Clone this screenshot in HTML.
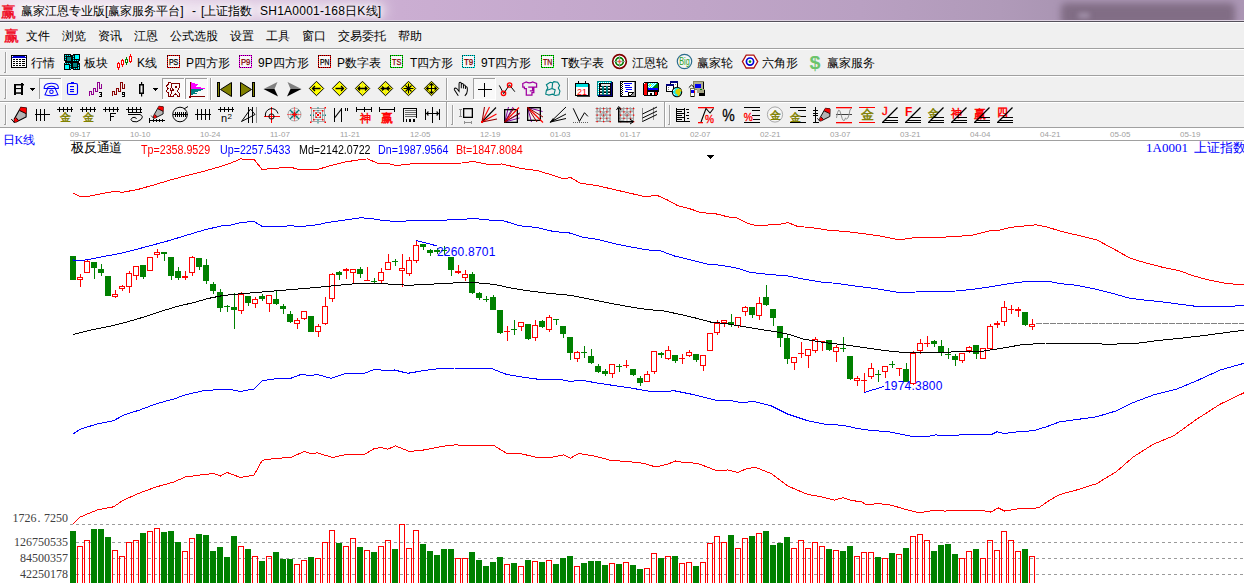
<!DOCTYPE html>
<html lang="zh"><head><meta charset="utf-8"><title>赢家江恩专业版</title>
<style>
html,body{margin:0;padding:0}
body{width:1244px;height:583px;overflow:hidden;position:relative;background:#fff;
 font-family:"Liberation Sans",sans-serif;font-size:12px;color:#000}
.t{position:absolute;white-space:nowrap;line-height:14px;height:14px}
.abs{position:absolute}
#title{position:absolute;left:0;top:0;width:1244px;height:21px;overflow:hidden;
 background:linear-gradient(90deg,#efe3ef 0px,#e6d6e8 120px,#d8c0dc 260px,#cbaed2 400px,#c5a9cd 560px,#c0a5c8 700px,#b9a0c2 860px,#b09ab9 1000px,#ab96b4 1050px)}
#title .blob{position:absolute;left:1061px;top:3px;width:174px;height:23px;background:#816d85;filter:blur(3.5px);border-radius:5px}
#title .blob2{position:absolute;left:1078px;top:13px;width:12px;height:5px;background:#a594ad;filter:blur(2.5px);border-radius:3px}
#title .glow{position:absolute;left:14px;top:2px;width:372px;height:16px;background:#fff;opacity:.55;filter:blur(6px);border-radius:8px}
#title .hl{position:absolute;left:0;top:20px;width:1244px;height:1px;background:#ddd2e1}
#tline{position:absolute;left:0;top:21px;width:1244px;height:1px;background:#55505b}
#bars{position:absolute;left:0;top:22px;width:1244px;height:105px;background:#f0f0f0}
.sep{position:absolute;left:0;width:1244px;height:1px;background:#a0a0a0}
.sepw{position:absolute;left:0;width:1244px;height:1px;background:#fff}
.ttl{text-shadow:0 0 5px #fff,0 0 8px #fff}
.m{font-size:12px}
.ser{font-family:"Liberation Serif",serif}
.blue{color:#0000ff}.red{color:#ff0000}
.hd{font-size:12px;transform:scaleX(.89);transform-origin:0 0}
.dt{font-size:8px;color:#a0a0a0;line-height:10px;height:10px}
.vl{font-family:"Liberation Serif",serif;font-size:12px;color:#404040;text-align:right;width:60px}
.chart{position:absolute;left:0;top:0}
.ic{position:absolute;overflow:visible}
.grip{position:absolute;width:1px;background:#a0a0a0}
.vsep{position:absolute;width:1px;background:#a0a0a0}
.btn{position:absolute;background:#fafafa;box-shadow:inset 1px 1px 0 #a0a0a0,inset -1px -1px 0 #fff}
</style></head><body>

<div id="title"><div class="blob"></div><div class="blob2"></div><div class="glow"></div><div class="hl"></div>
<span class="t ttl" style="left:21px;top:4px;">赢家江恩专业版[赢家服务平台]</span>
<span class="t ttl" style="left:192px;top:4px;">-</span>
<span class="t ttl" style="left:201px;top:4px;">[上证指数</span>
<span class="t ttl" style="left:260px;top:4px;letter-spacing:.25px">SH1A0001-168日K线]</span>
</div><div id="tline"></div>
<div id="bars"></div>
<div class="sepw" style="top:22px"></div>
<div class="sep" style="top:48px"></div><div class="sepw" style="top:49px"></div>
<div class="sep" style="top:75px"></div><div class="sepw" style="top:76px"></div>
<div class="sep" style="top:101px"></div><div class="sepw" style="top:102px"></div>
<div class="sep" style="top:127px"></div>
<span class="t m" style="left:26px;top:29px;">文件</span>
<span class="t m" style="left:62px;top:29px;">浏览</span>
<span class="t m" style="left:98px;top:29px;">资讯</span>
<span class="t m" style="left:134px;top:29px;">江恩</span>
<span class="t m" style="left:170px;top:29px;">公式选股</span>
<span class="t m" style="left:230px;top:29px;">设置</span>
<span class="t m" style="left:266px;top:29px;">工具</span>
<span class="t m" style="left:302px;top:29px;">窗口</span>
<span class="t m" style="left:338px;top:29px;">交易委托</span>
<span class="t m" style="left:398px;top:29px;">帮助</span>
<span class="t m" style="left:31px;top:56px;">行情</span>
<span class="t m" style="left:84px;top:56px;">板块</span>
<span class="t m" style="left:137px;top:56px;">K线</span>
<span class="t m" style="left:186px;top:56px;">P四方形</span>
<span class="t m" style="left:258px;top:56px;">9P四方形</span>
<span class="t m" style="left:337px;top:56px;">P数字表</span>
<span class="t m" style="left:410px;top:56px;">T四方形</span>
<span class="t m" style="left:481px;top:56px;">9T四方形</span>
<span class="t m" style="left:561px;top:56px;">T数字表</span>
<span class="t m" style="left:632px;top:56px;">江恩轮</span>
<span class="t m" style="left:697px;top:56px;">赢家轮</span>
<span class="t m" style="left:762px;top:56px;">六角形</span>
<span class="t m" style="left:827px;top:56px;">赢家服务</span>
<svg class="ic" style="left:0;top:0" width="1244" height="128" viewBox="0 0 1244 128" font-family="Liberation Sans, sans-serif"><text x="0.5" y="16.5" font-size="15" fill="#f00018" font-family="Liberation Serif, serif" stroke="#f00018" stroke-width=".35">赢</text><text x="3.5" y="40.5" font-size="15" fill="#f00018" font-family="Liberation Serif, serif" stroke="#f00018" stroke-width=".35">赢</text><g shape-rendering="crispEdges"><rect x="5" y="52" width="1" height="21" fill="#a0a0a0" /><rect x="4" y="72" width="1" height="1" fill="#a0a0a0" /><rect x="6" y="52" width="1" height="21" fill="#fbfbfb" /></g><g shape-rendering="crispEdges"><rect x="11.5" y="55.5" width="15" height="12" fill="#fff" stroke="#000" stroke-width="1" /><rect x="12" y="56" width="14" height="2" fill="#0000d0" /><rect x="12" y="56" width="1" height="1" fill="#fff" /><rect x="25" y="56" width="1" height="1" fill="#fff" /><rect x="13" y="59" width="2" height="1" fill="#000" /><rect x="16" y="59" width="2" height="1" fill="#000" /><rect x="19" y="59" width="2" height="1" fill="#000" /><rect x="22" y="59" width="3" height="1" fill="#000" /><rect x="13" y="61" width="2" height="1" fill="#000" /><rect x="16" y="61" width="2" height="1" fill="#000" /><rect x="19" y="61" width="2" height="1" fill="#000" /><rect x="22" y="61" width="3" height="1" fill="#000" /><rect x="13" y="63" width="2" height="1" fill="#000" /><rect x="16" y="63" width="2" height="1" fill="#000" /><rect x="19" y="63" width="2" height="1" fill="#000" /><rect x="22" y="63" width="3" height="1" fill="#000" /><rect x="13" y="65" width="2" height="1" fill="#000" /><rect x="16" y="65" width="2" height="1" fill="#000" /><rect x="19" y="65" width="2" height="1" fill="#000" /><rect x="22" y="65" width="3" height="1" fill="#000" /></g><g shape-rendering="crispEdges"><rect x="64" y="54" width="7" height="1" fill="#000" /><rect x="73" y="54" width="7" height="1" fill="#000" /><rect x="64" y="55" width="1" height="1" fill="#000" /><rect x="65" y="55" width="1" height="1" fill="#00ffff" /><rect x="66" y="55" width="1" height="1" fill="#003838" /><rect x="67" y="55" width="1" height="1" fill="#00ffff" /><rect x="68" y="55" width="1" height="1" fill="#003838" /><rect x="69" y="55" width="1" height="1" fill="#00ffff" /><rect x="70" y="55" width="3" height="1" fill="#000" /><rect x="73" y="55" width="1" height="1" fill="#003838" /><rect x="74" y="55" width="1" height="1" fill="#000" /><rect x="75" y="55" width="4" height="1" fill="#00ffff" /><rect x="79" y="55" width="1" height="1" fill="#000" /><rect x="64" y="56" width="1" height="1" fill="#000" /><rect x="65" y="56" width="1" height="1" fill="#003838" /><rect x="66" y="56" width="7" height="1" fill="#000" /><rect x="73" y="56" width="1" height="1" fill="#00ffff" /><rect x="74" y="56" width="1" height="1" fill="#000" /><rect x="75" y="56" width="4" height="1" fill="#00ffff" /><rect x="79" y="56" width="1" height="1" fill="#000" /><rect x="64" y="57" width="1" height="1" fill="#000" /><rect x="65" y="57" width="1" height="1" fill="#00ffff" /><rect x="66" y="57" width="1" height="1" fill="#000" /><rect x="67" y="57" width="4" height="1" fill="#008080" /><rect x="71" y="57" width="2" height="1" fill="#000" /><rect x="73" y="57" width="1" height="1" fill="#003838" /><rect x="74" y="57" width="1" height="1" fill="#000" /><rect x="75" y="57" width="4" height="1" fill="#00ffff" /><rect x="79" y="57" width="1" height="1" fill="#000" /><rect x="64" y="58" width="1" height="1" fill="#000" /><rect x="65" y="58" width="1" height="1" fill="#003838" /><rect x="66" y="58" width="1" height="1" fill="#000" /><rect x="67" y="58" width="4" height="1" fill="#008080" /><rect x="71" y="58" width="2" height="1" fill="#000" /><rect x="73" y="58" width="1" height="1" fill="#00ffff" /><rect x="74" y="58" width="1" height="1" fill="#000" /><rect x="75" y="58" width="4" height="1" fill="#00ffff" /><rect x="79" y="58" width="1" height="1" fill="#000" /><rect x="64" y="59" width="1" height="1" fill="#000" /><rect x="65" y="59" width="1" height="1" fill="#00ffff" /><rect x="66" y="59" width="1" height="1" fill="#000" /><rect x="67" y="59" width="4" height="1" fill="#008080" /><rect x="71" y="59" width="2" height="1" fill="#000" /><rect x="73" y="59" width="1" height="1" fill="#003838" /><rect x="74" y="59" width="6" height="1" fill="#000" /><rect x="64" y="60" width="3" height="1" fill="#000" /><rect x="67" y="60" width="4" height="1" fill="#008080" /><rect x="71" y="60" width="2" height="1" fill="#000" /><rect x="73" y="60" width="1" height="1" fill="#00ffff" /><rect x="74" y="60" width="1" height="1" fill="#003838" /><rect x="75" y="60" width="1" height="1" fill="#00ffff" /><rect x="76" y="60" width="1" height="1" fill="#003838" /><rect x="77" y="60" width="1" height="1" fill="#00ffff" /><rect x="78" y="60" width="1" height="1" fill="#003838" /><rect x="79" y="60" width="1" height="1" fill="#000" /><rect x="65" y="61" width="14" height="1" fill="#000" /><rect x="65" y="62" width="14" height="1" fill="#000" /><rect x="64" y="63" width="1" height="1" fill="#000" /><rect x="65" y="63" width="1" height="1" fill="#00ffff" /><rect x="66" y="63" width="1" height="1" fill="#003838" /><rect x="67" y="63" width="1" height="1" fill="#00ffff" /><rect x="68" y="63" width="1" height="1" fill="#003838" /><rect x="69" y="63" width="1" height="1" fill="#00ffff" /><rect x="70" y="63" width="1" height="1" fill="#003838" /><rect x="71" y="63" width="2" height="1" fill="#000" /><rect x="73" y="63" width="4" height="1" fill="#008080" /><rect x="77" y="63" width="3" height="1" fill="#000" /><rect x="64" y="64" width="6" height="1" fill="#000" /><rect x="70" y="64" width="1" height="1" fill="#00ffff" /><rect x="71" y="64" width="2" height="1" fill="#000" /><rect x="73" y="64" width="4" height="1" fill="#008080" /><rect x="77" y="64" width="1" height="1" fill="#000" /><rect x="78" y="64" width="1" height="1" fill="#003838" /><rect x="79" y="64" width="1" height="1" fill="#000" /><rect x="64" y="65" width="1" height="1" fill="#000" /><rect x="65" y="65" width="4" height="1" fill="#00ffff" /><rect x="69" y="65" width="1" height="1" fill="#000" /><rect x="70" y="65" width="1" height="1" fill="#003838" /><rect x="71" y="65" width="2" height="1" fill="#000" /><rect x="73" y="65" width="4" height="1" fill="#008080" /><rect x="77" y="65" width="1" height="1" fill="#000" /><rect x="78" y="65" width="1" height="1" fill="#00ffff" /><rect x="79" y="65" width="1" height="1" fill="#000" /><rect x="64" y="66" width="1" height="1" fill="#000" /><rect x="65" y="66" width="4" height="1" fill="#00ffff" /><rect x="69" y="66" width="1" height="1" fill="#000" /><rect x="70" y="66" width="1" height="1" fill="#00ffff" /><rect x="71" y="66" width="2" height="1" fill="#000" /><rect x="73" y="66" width="4" height="1" fill="#008080" /><rect x="77" y="66" width="1" height="1" fill="#000" /><rect x="78" y="66" width="1" height="1" fill="#003838" /><rect x="79" y="66" width="1" height="1" fill="#000" /><rect x="64" y="67" width="1" height="1" fill="#000" /><rect x="65" y="67" width="4" height="1" fill="#00ffff" /><rect x="69" y="67" width="1" height="1" fill="#000" /><rect x="70" y="67" width="1" height="1" fill="#003838" /><rect x="71" y="67" width="7" height="1" fill="#000" /><rect x="78" y="67" width="1" height="1" fill="#00ffff" /><rect x="79" y="67" width="1" height="1" fill="#000" /><rect x="64" y="68" width="1" height="1" fill="#000" /><rect x="65" y="68" width="4" height="1" fill="#00ffff" /><rect x="69" y="68" width="1" height="1" fill="#000" /><rect x="70" y="68" width="1" height="1" fill="#00ffff" /><rect x="71" y="68" width="2" height="1" fill="#000" /><rect x="73" y="68" width="1" height="1" fill="#003838" /><rect x="74" y="68" width="1" height="1" fill="#00ffff" /><rect x="75" y="68" width="1" height="1" fill="#003838" /><rect x="76" y="68" width="1" height="1" fill="#00ffff" /><rect x="77" y="68" width="1" height="1" fill="#003838" /><rect x="78" y="68" width="1" height="1" fill="#00ffff" /><rect x="79" y="68" width="1" height="1" fill="#000" /><rect x="64" y="69" width="7" height="1" fill="#000" /><rect x="73" y="69" width="7" height="1" fill="#000" /></g><g shape-rendering="crispEdges"><rect x="118" y="62" width="1" height="1" fill="#f00" /><rect x="118" y="68" width="1" height="2" fill="#f00" /><rect x="117.5" y="63.5" width="2" height="4" fill="#fff" stroke="#f00" stroke-width="1" /><rect x="122" y="59" width="1" height="1" fill="#f00" /><rect x="122" y="65" width="1" height="2" fill="#f00" /><rect x="121.5" y="60.5" width="2" height="4" fill="#fff" stroke="#f00" stroke-width="1" /><rect x="126" y="57" width="1" height="2" fill="#008000" /><rect x="126" y="63" width="1" height="2" fill="#008000" /><rect x="125.5" y="59.5" width="2" height="3" fill="#fff" stroke="#008000" stroke-width="1" /><rect x="130" y="54" width="1" height="2" fill="#f00" /><rect x="130" y="62" width="1" height="1" fill="#f00" /><rect x="129.5" y="56.5" width="2" height="5" fill="#fff" stroke="#f00" stroke-width="1" /></g><g shape-rendering="crispEdges"><rect x="167.5" y="55.5" width="12" height="12" fill="#f8f8f8" stroke="#300000" stroke-width="1" /><rect x="167.5" y="55.5" width="12" height="12" fill="none" stroke="#ff0000" stroke-width="1" stroke-dasharray="1 1"/></g><text x="173.6" y="65" font-size="8.6" fill="#000" text-anchor="middle" textLength="9.4" lengthAdjust="spacingAndGlyphs" stroke="#000" stroke-width=".25">PS</text><g shape-rendering="crispEdges"><rect x="239.5" y="55.5" width="12" height="12" fill="#f8f8f8" stroke="#500050" stroke-width="1" /><rect x="239.5" y="55.5" width="12" height="12" fill="none" stroke="#ff00ff" stroke-width="1" stroke-dasharray="1 1"/></g><text x="245.6" y="65" font-size="8.6" fill="#800000" text-anchor="middle" textLength="9.4" lengthAdjust="spacingAndGlyphs" stroke="#800000" stroke-width=".25">P9</text><g shape-rendering="crispEdges"><rect x="318.5" y="55.5" width="12" height="12" fill="#f8f8f8" stroke="#300000" stroke-width="1" /><rect x="318.5" y="55.5" width="12" height="12" fill="none" stroke="#ff0000" stroke-width="1" stroke-dasharray="1 1"/></g><text x="324.6" y="65" font-size="8.6" fill="#000" text-anchor="middle" textLength="9.4" lengthAdjust="spacingAndGlyphs" stroke="#000" stroke-width=".25">PN</text><g shape-rendering="crispEdges"><rect x="390.5" y="55.5" width="12" height="12" fill="#f8f8f8" stroke="#004000" stroke-width="1" /><rect x="390.5" y="55.5" width="12" height="12" fill="none" stroke="#00ff00" stroke-width="1" stroke-dasharray="1 1"/></g><text x="396.6" y="65" font-size="8.6" fill="#800000" text-anchor="middle" textLength="9.4" lengthAdjust="spacingAndGlyphs" stroke="#800000" stroke-width=".25">TS</text><g shape-rendering="crispEdges"><rect x="462.5" y="55.5" width="12" height="12" fill="#f8f8f8" stroke="#004848" stroke-width="1" /><rect x="462.5" y="55.5" width="12" height="12" fill="none" stroke="#00e8e8" stroke-width="1" stroke-dasharray="1 1"/></g><text x="468.6" y="65" font-size="8.6" fill="#800000" text-anchor="middle" textLength="9.4" lengthAdjust="spacingAndGlyphs" stroke="#800000" stroke-width=".25">T9</text><g shape-rendering="crispEdges"><rect x="541.5" y="55.5" width="12" height="12" fill="#f8f8f8" stroke="#004000" stroke-width="1" /><rect x="541.5" y="55.5" width="12" height="12" fill="none" stroke="#00ff00" stroke-width="1" stroke-dasharray="1 1"/></g><text x="547.6" y="65" font-size="8.6" fill="#800000" text-anchor="middle" textLength="9.4" lengthAdjust="spacingAndGlyphs" stroke="#800000" stroke-width=".25">TN</text><g><circle cx="619.5" cy="61.5" r="6.8" fill="#fff" stroke="#800000" stroke-width="1.7"/><circle cx="619.5" cy="61.5" r="3.8" fill="#f4f0ee" stroke="#008000" stroke-width="1.7"/><path d="M613.0 61.5h13M619.5 55.0v13" fill="none" stroke="#9a9a9a" stroke-width="0.9" /><circle cx="619.5" cy="61.5" r="1.3" fill="#ff5030"/></g><g><circle cx="684.5" cy="61.5" r="7.2" fill="#f6f6f6" stroke="#2c6c8c" stroke-width="1.2"/><text x="684.5" y="65.3" font-size="11" fill="#2aa02a" text-anchor="middle" textLength="10.5" lengthAdjust="spacingAndGlyphs">Big</text></g><g><polygon points="742.4,61.6 746.2,55.2 753.8,55.2 757.7,61.6 753.8,68 746.2,68" fill="#fff" stroke="#b01010" stroke-width="1.3"/><circle cx="750" cy="61.6" r="3.6" fill="#fff" stroke="#0000d8" stroke-width="1.7"/><circle cx="750" cy="61.6" r="1.3" fill="#00a000"/></g><text x="809.5" y="68.5" font-size="18" fill="#6cc46c" font-weight="bold" textLength="11" lengthAdjust="spacingAndGlyphs">$</text><g shape-rendering="crispEdges"><rect x="5" y="79" width="1" height="20" fill="#a0a0a0" /><rect x="4" y="98" width="1" height="1" fill="#a0a0a0" /><rect x="6" y="79" width="1" height="20" fill="#fbfbfb" /></g><g><rect x="14" y="84" width="2" height="11" fill="#000" /><rect x="21" y="83" width="2" height="12" fill="#000" /><rect x="14" y="84" width="10" height="1.5" fill="#000" /><rect x="14" y="88" width="9" height="1.1" fill="#000" /><rect x="14" y="92.3" width="9" height="1.5" fill="#000" /></g><g shape-rendering="crispEdges"><rect x="30" y="88" width="5" height="1" fill="#000" /><rect x="31" y="89" width="3" height="1" fill="#000" /><rect x="32" y="90" width="1" height="1" fill="#000" /></g><g shape-rendering="crispEdges"><rect x="39" y="78" width="23" height="22" fill="#f9f9f9" /><rect x="39" y="78" width="23" height="1" fill="#a0a0a0" /><rect x="39" y="78" width="1" height="22" fill="#a0a0a0" /><rect x="39" y="99" width="23" height="1" fill="#ffffff" /><rect x="61" y="78" width="1" height="22" fill="#ffffff" /></g><g transform="translate(0 76) scale(0.12547)"><path d="M352 100 Q350 70 380 62 Q410 55 440 62 Q468 70 465 100 L440 100 Q440 82 410 82 Q380 82 378 100 Z" fill="none" stroke="#0000ff" stroke-width="8" /><path d="M380 100 L440 100 L462 150 Q410 165 358 150 Z" fill="none" stroke="#0000ff" stroke-width="8" /><circle cx="410" cy="125" r="14" fill="none" stroke="#0000ff" stroke-width="8"/></g><g><rect x="67.5" y="83.5" width="10" height="11" rx="1.6" fill="none" stroke="#0000ff" stroke-width="1.1"/><rect x="71" y="82" width="3" height="1.2" fill="#0000ff" /><rect x="70" y="86" width="4" height="1.1" fill="#0000ff" /><rect x="70" y="89" width="4" height="1.1" fill="#0000ff" /><rect x="70" y="91" width="4" height="1.1" fill="#0000ff" /></g><g shape-rendering="crispEdges"><rect x="89" y="91" width="1" height="5" fill="#900090" /><rect x="89" y="91" width="3" height="1" fill="#900090" /><rect x="91" y="91" width="1" height="4" fill="#900090" /><rect x="91" y="94" width="3" height="1" fill="#900090" /><rect x="93" y="88" width="1" height="7" fill="#900090" /><rect x="93" y="88" width="3" height="1" fill="#900090" /><rect x="95" y="88" width="1" height="4" fill="#900090" /><rect x="95" y="91" width="3" height="1" fill="#900090" /><rect x="97" y="82" width="1" height="10" fill="#900090" /><rect x="97" y="82" width="3" height="1" fill="#900090" /><rect x="99" y="82" width="1" height="7" fill="#900090" /><rect x="99" y="88" width="3" height="1" fill="#900090" /><rect x="101" y="84" width="1" height="5" fill="#900090" /></g><g shape-rendering="crispEdges"><rect x="99" y="92" width="3" height="1" fill="#000" /><rect x="101" y="93" width="1" height="1" fill="#000" /><rect x="100" y="94" width="2" height="1" fill="#000" /><rect x="101" y="95" width="1" height="1" fill="#000" /><rect x="99" y="96" width="3" height="1" fill="#000" /></g><g shape-rendering="crispEdges"><rect x="112" y="91" width="1" height="5" fill="#880000" /><rect x="112" y="91" width="3" height="1" fill="#880000" /><rect x="114" y="91" width="1" height="4" fill="#880000" /><rect x="114" y="94" width="3" height="1" fill="#880000" /><rect x="116" y="88" width="1" height="7" fill="#880000" /><rect x="116" y="88" width="3" height="1" fill="#880000" /><rect x="118" y="88" width="1" height="4" fill="#880000" /><rect x="118" y="91" width="3" height="1" fill="#880000" /><rect x="120" y="82" width="1" height="10" fill="#880000" /><rect x="120" y="82" width="3" height="1" fill="#880000" /><rect x="122" y="82" width="1" height="7" fill="#880000" /><rect x="122" y="88" width="3" height="1" fill="#880000" /><rect x="124" y="84" width="1" height="5" fill="#880000" /></g><g shape-rendering="crispEdges"><rect x="122" y="92" width="3" height="1" fill="#000" /><rect x="122" y="93" width="1" height="1" fill="#000" /><rect x="124" y="93" width="1" height="1" fill="#000" /><rect x="122" y="94" width="3" height="1" fill="#000" /><rect x="124" y="95" width="1" height="1" fill="#000" /><rect x="122" y="96" width="3" height="1" fill="#000" /></g><g><rect x="139.75" y="84.75" width="3.5" height="8.5" fill="none" stroke="#000" stroke-width="1.5" /><rect x="141" y="82" width="1.2" height="2" fill="#000" /><rect x="141" y="94" width="1.2" height="2.5" fill="#000" /></g><g shape-rendering="crispEdges"><rect x="153" y="88" width="5" height="1" fill="#000" /><rect x="154" y="89" width="3" height="1" fill="#000" /><rect x="155" y="90" width="1" height="1" fill="#000" /></g><g shape-rendering="crispEdges"><rect x="162" y="78" width="23" height="22" fill="#f9f9f9" /><rect x="162" y="78" width="23" height="1" fill="#a0a0a0" /><rect x="162" y="78" width="1" height="22" fill="#a0a0a0" /><rect x="162" y="99" width="23" height="1" fill="#ffffff" /><rect x="184" y="78" width="1" height="22" fill="#ffffff" /></g><g shape-rendering="crispEdges"><rect x="168" y="82" width="3" height="1" fill="#800000" /><rect x="168" y="83" width="1" height="1" fill="#800000" /><rect x="171" y="83" width="9" height="1" fill="#800000" /><rect x="167" y="84" width="2" height="1" fill="#800000" /><rect x="171" y="84" width="1" height="1" fill="#800000" /><rect x="179" y="84" width="1" height="1" fill="#800000" /><rect x="166" y="85" width="2" height="1" fill="#800000" /><rect x="171" y="85" width="1" height="1" fill="#800000" /><rect x="179" y="85" width="1" height="1" fill="#800000" /><rect x="166" y="86" width="1" height="1" fill="#800000" /><rect x="171" y="86" width="1" height="1" fill="#800000" /><rect x="175" y="86" width="2" height="1" fill="#800000" /><rect x="179" y="86" width="1" height="1" fill="#800000" /><rect x="167" y="87" width="1" height="1" fill="#800000" /><rect x="171" y="87" width="1" height="1" fill="#800000" /><rect x="175" y="87" width="2" height="1" fill="#800000" /><rect x="179" y="87" width="1" height="1" fill="#800000" /><rect x="167" y="88" width="2" height="1" fill="#800000" /><rect x="170" y="88" width="1" height="1" fill="#800000" /><rect x="172" y="88" width="1" height="1" fill="#800000" /><rect x="178" y="88" width="1" height="1" fill="#800000" /><rect x="167" y="89" width="1" height="1" fill="#800000" /><rect x="170" y="89" width="1" height="1" fill="#800000" /><rect x="172" y="89" width="2" height="1" fill="#800000" /><rect x="178" y="89" width="1" height="1" fill="#800000" /><rect x="166" y="90" width="1" height="1" fill="#800000" /><rect x="170" y="90" width="4" height="1" fill="#800000" /><rect x="177" y="90" width="1" height="1" fill="#800000" /><rect x="166" y="91" width="1" height="1" fill="#800000" /><rect x="171" y="91" width="1" height="1" fill="#800000" /><rect x="177" y="91" width="1" height="1" fill="#800000" /><rect x="167" y="92" width="2" height="1" fill="#800000" /><rect x="171" y="92" width="1" height="1" fill="#800000" /><rect x="178" y="92" width="1" height="1" fill="#800000" /><rect x="168" y="93" width="1" height="1" fill="#800000" /><rect x="171" y="93" width="1" height="1" fill="#800000" /><rect x="175" y="93" width="1" height="1" fill="#800000" /><rect x="179" y="93" width="1" height="1" fill="#800000" /><rect x="168" y="94" width="1" height="1" fill="#800000" /><rect x="170" y="94" width="1" height="1" fill="#800000" /><rect x="174" y="94" width="3" height="1" fill="#800000" /><rect x="179" y="94" width="1" height="1" fill="#800000" /><rect x="168" y="95" width="1" height="1" fill="#800000" /><rect x="170" y="95" width="1" height="1" fill="#800000" /><rect x="173" y="95" width="1" height="1" fill="#800000" /><rect x="177" y="95" width="1" height="1" fill="#800000" /><rect x="179" y="95" width="1" height="1" fill="#800000" /><rect x="168" y="96" width="6" height="1" fill="#800000" /><rect x="177" y="96" width="3" height="1" fill="#800000" /></g><g shape-rendering="crispEdges"><rect x="185" y="78" width="23" height="22" fill="#f9f9f9" /><rect x="185" y="78" width="23" height="1" fill="#a0a0a0" /><rect x="185" y="78" width="1" height="22" fill="#a0a0a0" /><rect x="185" y="99" width="23" height="1" fill="#ffffff" /><rect x="207" y="78" width="1" height="22" fill="#ffffff" /></g><g shape-rendering="crispEdges"><rect x="190" y="82" width="1" height="16" fill="#800000" /><rect x="189" y="96" width="16" height="1" fill="#800000" /><rect x="189" y="97" width="1" height="1" fill="#800000" /><rect x="191" y="82" width="1" height="1" fill="#ff00ff" /><rect x="191" y="83" width="4" height="1" fill="#ff00ff" /><rect x="191" y="84" width="7" height="1" fill="#ff00ff" /><rect x="191" y="85" width="6" height="1" fill="#ff00ff" /><rect x="191" y="86" width="5" height="1" fill="#ff00ff" /><rect x="191" y="87" width="10" height="1" fill="#ff00ff" /><rect x="191" y="88" width="14" height="1" fill="#ff00ff" /><rect x="191" y="89" width="12" height="1" fill="#008080" /><rect x="191" y="90" width="10" height="1" fill="#008080" /><rect x="191" y="91" width="7" height="1" fill="#008080" /><rect x="191" y="92" width="4" height="1" fill="#008080" /><rect x="191" y="93" width="6" height="1" fill="#008080" /><rect x="191" y="94" width="2" height="1" fill="#008080" /></g><g shape-rendering="crispEdges"><rect x="210" y="78" width="1" height="22" fill="#a0a0a0" /><rect x="211" y="78" width="1" height="22" fill="#ffffff" /></g><g><rect x="217.5" y="82.5" width="2" height="14" fill="#808000" stroke="#000" stroke-width="1" /><path d="M220.5 89.5L231.5 82.5V96.5Z" fill="#808000" stroke="#000" stroke-width="1" /></g><g><rect x="252.5" y="82.5" width="2" height="14" fill="#808000" stroke="#000" stroke-width="1" /><path d="M251.5 89.5L240.5 82.5V96.5Z" fill="#808000" stroke="#000" stroke-width="1" /></g><g><path d="M263.5 89L277.5 82L274.5 89Z" fill="#808080" stroke="none" stroke-width="0" /><path d="M263.5 89L274.5 89L278 96.5Z" fill="#000" stroke="none" stroke-width="0" /></g><g><path d="M301.5 89L287.5 82L290.5 89Z" fill="#808080" stroke="none" stroke-width="0" /><path d="M301.5 89L290.5 89L287 96.5Z" fill="#000" stroke="none" stroke-width="0" /></g><g><path d="M309.3 88.5L316.5 81.3L323.7 88.5L316.5 95.7Z" fill="#ffff00" stroke="#000" stroke-width="1" /><path d="M320.5 88.5H312.5M315.0 86.0L312.5 88.5L315.0 91.0" fill="none" stroke="#000" stroke-width="1.3" /></g><g><path d="M332.3 88.5L339.5 81.3L346.7 88.5L339.5 95.7Z" fill="#ffff00" stroke="#000" stroke-width="1" /><path d="M335.5 88.5H343.5M341.0 86.0L343.5 88.5L341.0 91.0" fill="none" stroke="#000" stroke-width="1.3" /></g><g><path d="M355.3 88.5L362.5 81.3L369.7 88.5L362.5 95.7Z" fill="#ffff00" stroke="#000" stroke-width="1" /><path d="M362.5 82.5V94.5" fill="none" stroke="#c0c080" stroke-width="1" stroke-dasharray="1 1"/><path d="M358.0 88.5H367.0M360.0 86.5L358.0 88.5L360.0 90.5M365.0 86.5L367.0 88.5L365.0 90.5" fill="none" stroke="#000" stroke-width="1.3" /></g><g><path d="M378.3 88.5L385.5 81.3L392.7 88.5L385.5 95.7Z" fill="#ffff00" stroke="#000" stroke-width="1" /><path d="M385.5 82.5V94.5" fill="none" stroke="#c0c080" stroke-width="1" stroke-dasharray="1 1"/><path d="M380.5 88.5H390.5M382.0 86.5L384.5 88.5L382.0 90.5M389.0 86.5L386.5 88.5L389.0 90.5" fill="none" stroke="#000" stroke-width="1.3" /></g><g><path d="M401.3 88.5L408.5 81.3L415.7 88.5L408.5 95.7Z" fill="#ffff00" stroke="#000" stroke-width="1" /><path d="M403.5 88.5H413.5M408.5 83.5V93.5M405.5 85.5L411.5 91.5M411.5 85.5L405.5 91.5" fill="none" stroke="#000" stroke-width="1.1" /></g><g><path d="M424.3 88.5L431.5 81.3L438.7 88.5L431.5 95.7Z" fill="#ffff00" stroke="#000" stroke-width="1" /><path d="M426.5 88.5H436.5M431.5 83.5V93.5M429.5 85.5L431.5 83.5L433.5 85.5M429.5 91.5L431.5 93.5L433.5 91.5M428.5 86.5L426.5 88.5L428.5 90.5M434.5 86.5L436.5 88.5L434.5 90.5" fill="none" stroke="#000" stroke-width="1.1" /></g><g shape-rendering="crispEdges"><rect x="446" y="78" width="1" height="22" fill="#a0a0a0" /><rect x="447" y="78" width="1" height="22" fill="#ffffff" /></g><g transform="translate(446 76) scale(0.12547)"><path d="M98 158 L68 112 Q62 98 76 96 Q84 96 92 108 L104 122 V62 Q104 50 113 50 Q122 50 122 62 V98 M122 70 Q122 60 130 60 Q139 60 139 72 V100 M139 80 Q139 70 147 71 Q155 72 155 84 V104 M155 92 Q156 84 163 86 Q170 88 170 100 V118 Q170 140 150 158" fill="none" stroke="#000" stroke-width="8" /></g><g shape-rendering="crispEdges"><rect x="473" y="78" width="23" height="22" fill="#f9f9f9" /><rect x="473" y="78" width="23" height="1" fill="#a0a0a0" /><rect x="473" y="78" width="1" height="22" fill="#a0a0a0" /><rect x="473" y="99" width="23" height="1" fill="#ffffff" /><rect x="495" y="78" width="1" height="22" fill="#ffffff" /></g><g shape-rendering="crispEdges"><rect x="478" y="89" width="14" height="1" fill="#000" /><rect x="484" y="83" width="1" height="14" fill="#000" /></g><g><path d="M499.3 85.4L503.7 93.6L509.4 84.8L514.8 91.7" fill="none" stroke="#000" stroke-width="1" /><circle cx="503.5" cy="93.3" r="2.2" fill="none" stroke="#f00" stroke-width="1.3"/><circle cx="509.6" cy="85" r="2.2" fill="none" stroke="#f00" stroke-width="1.3"/></g><g transform="translate(446 76) scale(0.12547)"><path d="M612 60 L640 48 Q665 62 690 48 L722 60 V88 H700 V132 H685 V152 H640 V100 H625 V88 H612 Z M655 88 H690 V118 H668" fill="none" stroke="#a000a0" stroke-width="10" /></g><g transform="translate(446 76) scale(0.12547)"><path d="M800 70 L830 50 L850 55 L860 45 L890 50 L905 75 L895 95 L908 120 L900 150 L870 155 L850 145 L820 152 L795 145 L800 115 L812 95 Z M850 55 L845 100 L870 110 L860 150 M800 115 L845 100" fill="none" stroke="#008080" stroke-width="9" /></g><g shape-rendering="crispEdges"><rect x="567" y="78" width="1" height="22" fill="#a0a0a0" /><rect x="568" y="78" width="1" height="22" fill="#ffffff" /></g><g shape-rendering="crispEdges"><rect x="577" y="84" width="13" height="13" fill="#404040" /><rect x="575.5" y="83.5" width="13" height="12" fill="#fff" stroke="#000" stroke-width="1" /><rect x="576" y="84" width="12" height="3" fill="#00e0e0" /><rect x="578" y="81" width="1" height="3" fill="#000" /><rect x="585" y="81" width="1" height="3" fill="#000" /></g><text x="582" y="94.5" font-size="9" fill="#f00" text-anchor="middle" textLength="10" lengthAdjust="spacingAndGlyphs">21</text><g shape-rendering="crispEdges"><rect x="597" y="81" width="15" height="1" fill="#008080" /><rect x="597" y="82" width="1" height="1" fill="#008080" /><rect x="598" y="82" width="1" height="1" fill="#00ffff" /><rect x="599" y="82" width="1" height="1" fill="#ffffff" /><rect x="600" y="82" width="1" height="1" fill="#00ffff" /><rect x="601" y="82" width="1" height="1" fill="#ffffff" /><rect x="602" y="82" width="1" height="1" fill="#00ffff" /><rect x="603" y="82" width="1" height="1" fill="#ffffff" /><rect x="604" y="82" width="1" height="1" fill="#00ffff" /><rect x="605" y="82" width="1" height="1" fill="#ffffff" /><rect x="606" y="82" width="1" height="1" fill="#00ffff" /><rect x="607" y="82" width="1" height="1" fill="#ffffff" /><rect x="608" y="82" width="1" height="1" fill="#00ffff" /><rect x="609" y="82" width="1" height="1" fill="#ffffff" /><rect x="610" y="82" width="1" height="1" fill="#00ffff" /><rect x="611" y="82" width="1" height="1" fill="#000080" /><rect x="612" y="82" width="1" height="1" fill="#000" /><rect x="597" y="83" width="1" height="1" fill="#008080" /><rect x="598" y="83" width="1" height="1" fill="#ffffff" /><rect x="599" y="83" width="12" height="1" fill="#000" /><rect x="611" y="83" width="1" height="1" fill="#000080" /><rect x="612" y="83" width="1" height="1" fill="#000" /><rect x="597" y="84" width="1" height="1" fill="#008080" /><rect x="598" y="84" width="1" height="1" fill="#00ffff" /><rect x="599" y="84" width="2" height="1" fill="#000" /><rect x="601" y="84" width="9" height="1" fill="#e4e4e4" /><rect x="610" y="84" width="1" height="1" fill="#000" /><rect x="611" y="84" width="1" height="1" fill="#000080" /><rect x="612" y="84" width="1" height="1" fill="#000" /><rect x="597" y="85" width="1" height="1" fill="#008080" /><rect x="598" y="85" width="1" height="1" fill="#ffffff" /><rect x="599" y="85" width="2" height="1" fill="#000" /><rect x="601" y="85" width="9" height="1" fill="#e4e4e4" /><rect x="610" y="85" width="1" height="1" fill="#000" /><rect x="611" y="85" width="1" height="1" fill="#000080" /><rect x="612" y="85" width="1" height="1" fill="#000" /><rect x="597" y="86" width="1" height="1" fill="#008080" /><rect x="598" y="86" width="1" height="1" fill="#00ffff" /><rect x="599" y="86" width="3" height="1" fill="#000" /><rect x="602" y="86" width="2" height="1" fill="#008080" /><rect x="604" y="86" width="2" height="1" fill="#000" /><rect x="606" y="86" width="2" height="1" fill="#008080" /><rect x="608" y="86" width="3" height="1" fill="#000" /><rect x="611" y="86" width="1" height="1" fill="#000080" /><rect x="612" y="86" width="1" height="1" fill="#000" /><rect x="597" y="87" width="1" height="1" fill="#008080" /><rect x="598" y="87" width="1" height="1" fill="#ffffff" /><rect x="599" y="87" width="1" height="1" fill="#000" /><rect x="600" y="87" width="2" height="1" fill="#ffffff" /><rect x="602" y="87" width="2" height="1" fill="#008080" /><rect x="604" y="87" width="2" height="1" fill="#ffffff" /><rect x="606" y="87" width="2" height="1" fill="#008080" /><rect x="608" y="87" width="2" height="1" fill="#ffffff" /><rect x="610" y="87" width="1" height="1" fill="#000" /><rect x="611" y="87" width="1" height="1" fill="#000080" /><rect x="612" y="87" width="1" height="1" fill="#000" /><rect x="597" y="88" width="1" height="1" fill="#008080" /><rect x="598" y="88" width="1" height="1" fill="#00ffff" /><rect x="599" y="88" width="1" height="1" fill="#000" /><rect x="600" y="88" width="2" height="1" fill="#606060" /><rect x="602" y="88" width="2" height="1" fill="#008080" /><rect x="604" y="88" width="2" height="1" fill="#606060" /><rect x="606" y="88" width="2" height="1" fill="#008080" /><rect x="608" y="88" width="2" height="1" fill="#606060" /><rect x="610" y="88" width="1" height="1" fill="#000" /><rect x="611" y="88" width="1" height="1" fill="#000080" /><rect x="612" y="88" width="1" height="1" fill="#000" /><rect x="597" y="89" width="1" height="1" fill="#008080" /><rect x="598" y="89" width="1" height="1" fill="#ffffff" /><rect x="599" y="89" width="3" height="1" fill="#000" /><rect x="602" y="89" width="2" height="1" fill="#008080" /><rect x="604" y="89" width="2" height="1" fill="#000" /><rect x="606" y="89" width="2" height="1" fill="#008080" /><rect x="608" y="89" width="3" height="1" fill="#000" /><rect x="611" y="89" width="1" height="1" fill="#000080" /><rect x="612" y="89" width="1" height="1" fill="#000" /><rect x="597" y="90" width="1" height="1" fill="#008080" /><rect x="598" y="90" width="1" height="1" fill="#00ffff" /><rect x="599" y="90" width="1" height="1" fill="#000" /><rect x="600" y="90" width="2" height="1" fill="#ffffff" /><rect x="602" y="90" width="2" height="1" fill="#008080" /><rect x="604" y="90" width="2" height="1" fill="#ffffff" /><rect x="606" y="90" width="2" height="1" fill="#008080" /><rect x="608" y="90" width="2" height="1" fill="#ffffff" /><rect x="610" y="90" width="1" height="1" fill="#000" /><rect x="611" y="90" width="1" height="1" fill="#000080" /><rect x="612" y="90" width="1" height="1" fill="#000" /><rect x="597" y="91" width="1" height="1" fill="#008080" /><rect x="598" y="91" width="1" height="1" fill="#ffffff" /><rect x="599" y="91" width="1" height="1" fill="#000" /><rect x="600" y="91" width="2" height="1" fill="#606060" /><rect x="602" y="91" width="2" height="1" fill="#008080" /><rect x="604" y="91" width="2" height="1" fill="#606060" /><rect x="606" y="91" width="2" height="1" fill="#008080" /><rect x="608" y="91" width="2" height="1" fill="#606060" /><rect x="610" y="91" width="1" height="1" fill="#000" /><rect x="611" y="91" width="1" height="1" fill="#000080" /><rect x="612" y="91" width="1" height="1" fill="#000" /><rect x="597" y="92" width="1" height="1" fill="#008080" /><rect x="598" y="92" width="1" height="1" fill="#00ffff" /><rect x="599" y="92" width="3" height="1" fill="#000" /><rect x="602" y="92" width="2" height="1" fill="#008080" /><rect x="604" y="92" width="2" height="1" fill="#000" /><rect x="606" y="92" width="2" height="1" fill="#008080" /><rect x="608" y="92" width="3" height="1" fill="#000" /><rect x="611" y="92" width="1" height="1" fill="#000080" /><rect x="612" y="92" width="1" height="1" fill="#000" /><rect x="597" y="93" width="1" height="1" fill="#008080" /><rect x="598" y="93" width="1" height="1" fill="#ffffff" /><rect x="599" y="93" width="1" height="1" fill="#000" /><rect x="600" y="93" width="2" height="1" fill="#ffffff" /><rect x="602" y="93" width="2" height="1" fill="#008080" /><rect x="604" y="93" width="2" height="1" fill="#ffffff" /><rect x="606" y="93" width="2" height="1" fill="#008080" /><rect x="608" y="93" width="2" height="1" fill="#ffffff" /><rect x="610" y="93" width="1" height="1" fill="#000" /><rect x="611" y="93" width="1" height="1" fill="#000080" /><rect x="612" y="93" width="1" height="1" fill="#000" /><rect x="597" y="94" width="1" height="1" fill="#008080" /><rect x="598" y="94" width="1" height="1" fill="#00ffff" /><rect x="599" y="94" width="1" height="1" fill="#000" /><rect x="600" y="94" width="2" height="1" fill="#606060" /><rect x="602" y="94" width="2" height="1" fill="#008080" /><rect x="604" y="94" width="2" height="1" fill="#606060" /><rect x="606" y="94" width="2" height="1" fill="#008080" /><rect x="608" y="94" width="2" height="1" fill="#606060" /><rect x="610" y="94" width="1" height="1" fill="#000" /><rect x="611" y="94" width="1" height="1" fill="#000080" /><rect x="612" y="94" width="1" height="1" fill="#000" /><rect x="597" y="95" width="1" height="1" fill="#008080" /><rect x="598" y="95" width="14" height="1" fill="#000080" /><rect x="612" y="95" width="1" height="1" fill="#000" /><rect x="598" y="96" width="15" height="1" fill="#000" /></g><g shape-rendering="crispEdges"><rect x="620" y="81" width="16" height="1" fill="#000" /><rect x="620" y="82" width="1" height="1" fill="#000" /><rect x="621" y="82" width="1" height="1" fill="#fff" /><rect x="622" y="82" width="1" height="1" fill="#000" /><rect x="623" y="82" width="11" height="1" fill="#fff" /><rect x="634" y="82" width="1" height="1" fill="#909090" /><rect x="635" y="82" width="1" height="1" fill="#000" /><rect x="620" y="83" width="2" height="1" fill="#000" /><rect x="622" y="83" width="2" height="1" fill="#fff" /><rect x="624" y="83" width="8" height="1" fill="#0000ff" /><rect x="632" y="83" width="2" height="1" fill="#fff" /><rect x="634" y="83" width="1" height="1" fill="#909090" /><rect x="635" y="83" width="1" height="1" fill="#000" /><rect x="620" y="84" width="1" height="1" fill="#000" /><rect x="621" y="84" width="1" height="1" fill="#fff" /><rect x="622" y="84" width="1" height="1" fill="#000" /><rect x="623" y="84" width="11" height="1" fill="#fff" /><rect x="634" y="84" width="1" height="1" fill="#909090" /><rect x="635" y="84" width="1" height="1" fill="#000" /><rect x="620" y="85" width="2" height="1" fill="#000" /><rect x="622" y="85" width="3" height="1" fill="#fff" /><rect x="625" y="85" width="5" height="1" fill="#0000ff" /><rect x="630" y="85" width="4" height="1" fill="#fff" /><rect x="634" y="85" width="1" height="1" fill="#909090" /><rect x="635" y="85" width="1" height="1" fill="#000" /><rect x="620" y="86" width="1" height="1" fill="#000" /><rect x="621" y="86" width="1" height="1" fill="#fff" /><rect x="622" y="86" width="1" height="1" fill="#000" /><rect x="623" y="86" width="11" height="1" fill="#fff" /><rect x="634" y="86" width="1" height="1" fill="#909090" /><rect x="635" y="86" width="1" height="1" fill="#000" /><rect x="620" y="87" width="2" height="1" fill="#000" /><rect x="622" y="87" width="3" height="1" fill="#fff" /><rect x="625" y="87" width="7" height="1" fill="#0000ff" /><rect x="632" y="87" width="2" height="1" fill="#fff" /><rect x="634" y="87" width="1" height="1" fill="#909090" /><rect x="635" y="87" width="1" height="1" fill="#000" /><rect x="620" y="88" width="1" height="1" fill="#000" /><rect x="621" y="88" width="1" height="1" fill="#fff" /><rect x="622" y="88" width="1" height="1" fill="#000" /><rect x="623" y="88" width="11" height="1" fill="#fff" /><rect x="634" y="88" width="1" height="1" fill="#909090" /><rect x="635" y="88" width="1" height="1" fill="#000" /><rect x="620" y="89" width="2" height="1" fill="#000" /><rect x="622" y="89" width="4" height="1" fill="#fff" /><rect x="626" y="89" width="6" height="1" fill="#0000ff" /><rect x="632" y="89" width="2" height="1" fill="#fff" /><rect x="634" y="89" width="1" height="1" fill="#909090" /><rect x="635" y="89" width="1" height="1" fill="#000" /><rect x="620" y="90" width="1" height="1" fill="#000" /><rect x="621" y="90" width="1" height="1" fill="#fff" /><rect x="622" y="90" width="1" height="1" fill="#000" /><rect x="623" y="90" width="11" height="1" fill="#fff" /><rect x="634" y="90" width="1" height="1" fill="#909090" /><rect x="635" y="90" width="1" height="1" fill="#000" /><rect x="620" y="91" width="2" height="1" fill="#000" /><rect x="622" y="91" width="3" height="1" fill="#fff" /><rect x="625" y="91" width="3" height="1" fill="#0000ff" /><rect x="628" y="91" width="6" height="1" fill="#fff" /><rect x="634" y="91" width="1" height="1" fill="#909090" /><rect x="635" y="91" width="1" height="1" fill="#000" /><rect x="620" y="92" width="1" height="1" fill="#000" /><rect x="621" y="92" width="1" height="1" fill="#fff" /><rect x="622" y="92" width="1" height="1" fill="#000" /><rect x="623" y="92" width="5" height="1" fill="#fff" /><rect x="628" y="92" width="6" height="1" fill="#000" /><rect x="634" y="92" width="1" height="1" fill="#909090" /><rect x="635" y="92" width="1" height="1" fill="#000" /><rect x="620" y="93" width="2" height="1" fill="#000" /><rect x="622" y="93" width="6" height="1" fill="#fff" /><rect x="628" y="93" width="1" height="1" fill="#000" /><rect x="629" y="93" width="3" height="1" fill="#fff" /><rect x="632" y="93" width="1" height="1" fill="#000" /><rect x="633" y="93" width="2" height="1" fill="#909090" /><rect x="635" y="93" width="1" height="1" fill="#000" /><rect x="620" y="94" width="1" height="1" fill="#000" /><rect x="621" y="94" width="1" height="1" fill="#fff" /><rect x="622" y="94" width="1" height="1" fill="#000" /><rect x="623" y="94" width="5" height="1" fill="#fff" /><rect x="628" y="94" width="1" height="1" fill="#000" /><rect x="629" y="94" width="2" height="1" fill="#fff" /><rect x="631" y="94" width="1" height="1" fill="#000" /><rect x="632" y="94" width="3" height="1" fill="#909090" /><rect x="635" y="94" width="1" height="1" fill="#000" /><rect x="620" y="95" width="2" height="1" fill="#000" /><rect x="622" y="95" width="6" height="1" fill="#fff" /><rect x="628" y="95" width="3" height="1" fill="#000" /><rect x="631" y="95" width="4" height="1" fill="#909090" /><rect x="635" y="95" width="1" height="1" fill="#000" /><rect x="620" y="96" width="16" height="1" fill="#000" /></g><g shape-rendering="crispEdges"><rect x="644" y="82" width="14" height="1" fill="#000" /><rect x="643" y="83" width="1" height="1" fill="#000" /><rect x="644" y="83" width="1" height="1" fill="#fff" /><rect x="645" y="83" width="2" height="1" fill="#ff0000" /><rect x="647" y="83" width="1" height="1" fill="#000" /><rect x="648" y="83" width="1" height="1" fill="#00ffff" /><rect x="649" y="83" width="1" height="1" fill="#ffffff" /><rect x="650" y="83" width="1" height="1" fill="#00ffff" /><rect x="651" y="83" width="1" height="1" fill="#ffffff" /><rect x="652" y="83" width="1" height="1" fill="#00ffff" /><rect x="653" y="83" width="1" height="1" fill="#ffffff" /><rect x="654" y="83" width="1" height="1" fill="#00ffff" /><rect x="655" y="83" width="1" height="1" fill="#ffffff" /><rect x="656" y="83" width="1" height="1" fill="#00ffff" /><rect x="657" y="83" width="1" height="1" fill="#008000" /><rect x="658" y="83" width="1" height="1" fill="#000" /><rect x="643" y="84" width="1" height="1" fill="#000" /><rect x="644" y="84" width="3" height="1" fill="#ff0000" /><rect x="647" y="84" width="1" height="1" fill="#000" /><rect x="648" y="84" width="1" height="1" fill="#ffffff" /><rect x="649" y="84" width="1" height="1" fill="#00ffff" /><rect x="650" y="84" width="1" height="1" fill="#ffff00" /><rect x="651" y="84" width="1" height="1" fill="#00ffff" /><rect x="652" y="84" width="1" height="1" fill="#ffffff" /><rect x="653" y="84" width="1" height="1" fill="#00ffff" /><rect x="654" y="84" width="1" height="1" fill="#ffffff" /><rect x="655" y="84" width="1" height="1" fill="#00ffff" /><rect x="656" y="84" width="2" height="1" fill="#008000" /><rect x="658" y="84" width="1" height="1" fill="#000" /><rect x="643" y="85" width="1" height="1" fill="#000" /><rect x="644" y="85" width="3" height="1" fill="#ff0000" /><rect x="647" y="85" width="1" height="1" fill="#000" /><rect x="648" y="85" width="1" height="1" fill="#00ffff" /><rect x="649" y="85" width="2" height="1" fill="#ffff00" /><rect x="651" y="85" width="1" height="1" fill="#ffffff" /><rect x="652" y="85" width="1" height="1" fill="#00ffff" /><rect x="653" y="85" width="1" height="1" fill="#ffffff" /><rect x="654" y="85" width="1" height="1" fill="#00ffff" /><rect x="655" y="85" width="3" height="1" fill="#008000" /><rect x="658" y="85" width="1" height="1" fill="#000" /><rect x="643" y="86" width="1" height="1" fill="#000" /><rect x="644" y="86" width="3" height="1" fill="#ff0000" /><rect x="647" y="86" width="1" height="1" fill="#000" /><rect x="648" y="86" width="1" height="1" fill="#ffffff" /><rect x="649" y="86" width="1" height="1" fill="#00ffff" /><rect x="650" y="86" width="1" height="1" fill="#ffffff" /><rect x="651" y="86" width="1" height="1" fill="#00ffff" /><rect x="652" y="86" width="1" height="1" fill="#ffffff" /><rect x="653" y="86" width="1" height="1" fill="#00ffff" /><rect x="654" y="86" width="4" height="1" fill="#008000" /><rect x="658" y="86" width="1" height="1" fill="#000" /><rect x="643" y="87" width="1" height="1" fill="#000" /><rect x="644" y="87" width="3" height="1" fill="#ff0000" /><rect x="647" y="87" width="1" height="1" fill="#000" /><rect x="648" y="87" width="1" height="1" fill="#00ffff" /><rect x="649" y="87" width="1" height="1" fill="#ffffff" /><rect x="650" y="87" width="1" height="1" fill="#00ffff" /><rect x="651" y="87" width="1" height="1" fill="#ffffff" /><rect x="652" y="87" width="1" height="1" fill="#00ffff" /><rect x="653" y="87" width="5" height="1" fill="#008000" /><rect x="658" y="87" width="1" height="1" fill="#000" /><rect x="643" y="88" width="1" height="1" fill="#000" /><rect x="644" y="88" width="3" height="1" fill="#ff0000" /><rect x="647" y="88" width="1" height="1" fill="#000" /><rect x="648" y="88" width="10" height="1" fill="#0000ff" /><rect x="658" y="88" width="1" height="1" fill="#000" /><rect x="643" y="89" width="1" height="1" fill="#000" /><rect x="644" y="89" width="3" height="1" fill="#ff0000" /><rect x="647" y="89" width="1" height="1" fill="#000" /><rect x="648" y="89" width="10" height="1" fill="#0000ff" /><rect x="658" y="89" width="1" height="1" fill="#000" /><rect x="643" y="90" width="1" height="1" fill="#000" /><rect x="644" y="90" width="3" height="1" fill="#ff0000" /><rect x="647" y="90" width="12" height="1" fill="#000" /><rect x="643" y="91" width="1" height="1" fill="#000" /><rect x="644" y="91" width="3" height="1" fill="#ff0000" /><rect x="647" y="91" width="12" height="1" fill="#000" /><rect x="643" y="92" width="1" height="1" fill="#000" /><rect x="644" y="92" width="3" height="1" fill="#ff0000" /><rect x="647" y="92" width="1" height="1" fill="#000" /><rect x="648" y="92" width="6" height="1" fill="#fff" /><rect x="654" y="92" width="1" height="1" fill="#000" /><rect x="655" y="92" width="2" height="1" fill="#ff0000" /><rect x="657" y="92" width="1" height="1" fill="#000" /><rect x="643" y="93" width="1" height="1" fill="#000" /><rect x="644" y="93" width="3" height="1" fill="#ff0000" /><rect x="647" y="93" width="1" height="1" fill="#000" /><rect x="648" y="93" width="2" height="1" fill="#fff" /><rect x="650" y="93" width="2" height="1" fill="#000" /><rect x="652" y="93" width="2" height="1" fill="#fff" /><rect x="654" y="93" width="1" height="1" fill="#000" /><rect x="655" y="93" width="2" height="1" fill="#ff0000" /><rect x="657" y="93" width="1" height="1" fill="#000" /><rect x="643" y="94" width="1" height="1" fill="#000" /><rect x="644" y="94" width="3" height="1" fill="#ff0000" /><rect x="647" y="94" width="1" height="1" fill="#000" /><rect x="648" y="94" width="2" height="1" fill="#fff" /><rect x="650" y="94" width="2" height="1" fill="#000" /><rect x="652" y="94" width="2" height="1" fill="#fff" /><rect x="654" y="94" width="1" height="1" fill="#000" /><rect x="655" y="94" width="2" height="1" fill="#ff0000" /><rect x="657" y="94" width="1" height="1" fill="#000" /><rect x="644" y="95" width="13" height="1" fill="#000" /></g><g shape-rendering="crispEdges"><rect x="670.5" y="81.5" width="7" height="8" fill="#fff" stroke="#000" stroke-width="1" /><rect x="670" y="81" width="8" height="2" fill="#000080" /><rect x="675" y="84" width="1" height="1" fill="#808080" /><rect x="666.5" y="84.5" width="7" height="7" fill="#fff" stroke="#000" stroke-width="1" /><rect x="666" y="84" width="8" height="2" fill="#000080" /><rect x="668" y="87" width="1" height="1" fill="#808080" /><rect x="668" y="89" width="1" height="1" fill="#808080" /></g><g><circle cx="677" cy="92" r="4.7" fill="#20e8f0" stroke="#000" stroke-width="1.1"/><path d="M675.5 90.5l2-2 3 .5 1.5 2-2 1 .5 2-2 2.5-1.5-2.5-1.5-.5z" fill="#d8d000"/><path d="M673.3 91l1.2-1.8M673.5 93.5l1.2 1.5" stroke="#fff" stroke-width="1"/></g><g shape-rendering="crispEdges"><rect x="693.5" y="81.5" width="10" height="8" fill="#b0b090" stroke="#808060" stroke-width="1" /><rect x="703" y="82" width="1" height="8" fill="#000" /><rect x="695" y="84" width="6" height="4" fill="#0000f0" /><rect x="697" y="89" width="8" height="4" fill="#a8a888" /><rect x="700" y="89" width="2" height="1" fill="#008000" /><rect x="704" y="90" width="1" height="4" fill="#000" /><rect x="699" y="93" width="6" height="3" fill="#000" /><rect x="690.5" y="88.5" width="4" height="8" fill="#fff" stroke="#707050" stroke-width="1" /><rect x="691" y="90" width="3" height="3" fill="#0000f0" /><rect x="694" y="91" width="1" height="2" fill="#e00000" /><rect x="691" y="96" width="3" height="1" fill="#000" /></g><path d="M688.8 87.6L691.5 85L694.2 87.3" fill="none" stroke="#000" stroke-width="1" /><g shape-rendering="crispEdges"><rect x="5" y="105" width="1" height="20" fill="#a0a0a0" /><rect x="4" y="124" width="1" height="1" fill="#a0a0a0" /><rect x="6" y="105" width="1" height="20" fill="#fbfbfb" /></g><g transform="translate(11 107) scale(1.0)"><path d="M9.9 0.3L15.3 1L15.1 10L5.2 15L3.3 15.2L3.3 12Z" fill="#b4b4b4" stroke="#000" stroke-width="1.1" /><path d="M9.9 0.5L15.2 1.1L15.1 6.6L8.4 3.4Z" fill="#ff0000" stroke="#d00000" stroke-width="0.4" /><path d="M3.6 12.2L4.9 10.6L7.6 13.6L5.2 14.8L3.6 15Z" fill="#ff0000" stroke="#d00000" stroke-width="0.4" /><path d="M8.4 3.4L15.1 6.6M4.9 10.6L7.6 13.6" fill="none" stroke="#000" stroke-width="0.9" /><path d="M0.3 12L3.4 15.6" fill="none" stroke="#000" stroke-width="1" /></g><g shape-rendering="crispEdges"><rect x="36" y="109" width="1" height="12" fill="#000" /><rect x="40" y="109" width="1" height="12" fill="#000" /><rect x="44" y="109" width="1" height="12" fill="#000" /><rect x="35" y="114" width="15" height="1" fill="#000" /></g><g shape-rendering="crispEdges"><rect x="57" y="109" width="16" height="1" fill="#000" /><rect x="59" y="107" width="1" height="5" fill="#000" /><rect x="63" y="107" width="1" height="5" fill="#000" /><rect x="67" y="107" width="1" height="5" fill="#000" /><rect x="71" y="107" width="1" height="5" fill="#000" /></g><text x="65.5" y="121.2" font-size="10.5" fill="#808000" text-anchor="middle" stroke="#808000" stroke-width=".45">金</text><g shape-rendering="crispEdges"><rect x="80" y="109" width="16" height="1" fill="#000" /><rect x="82" y="107" width="1" height="5" fill="#000" /><rect x="86" y="107" width="1" height="5" fill="#000" /><rect x="90" y="107" width="1" height="5" fill="#000" /><rect x="94" y="107" width="1" height="5" fill="#000" /></g><text x="88.5" y="121.2" font-size="10.5" fill="#808000" text-anchor="middle" stroke="#808000" stroke-width=".45">金</text><g shape-rendering="crispEdges"><rect x="103" y="109" width="16" height="1" fill="#000" /><rect x="105" y="107" width="1" height="5" fill="#000" /><rect x="109" y="107" width="1" height="5" fill="#000" /><rect x="113" y="107" width="1" height="5" fill="#000" /><rect x="117" y="107" width="1" height="5" fill="#000" /></g><g shape-rendering="crispEdges"><rect x="110" y="113" width="1" height="8" fill="#000" /><rect x="110" y="113" width="6" height="1" fill="#000" /><rect x="110" y="116" width="4" height="1" fill="#000" /></g><g shape-rendering="crispEdges"><rect x="126" y="109" width="16" height="1" fill="#000" /><rect x="128" y="107" width="1" height="5" fill="#000" /><rect x="132" y="107" width="1" height="5" fill="#000" /><rect x="136" y="107" width="1" height="5" fill="#000" /><rect x="140" y="107" width="1" height="5" fill="#000" /></g><path d="M128 112.5H142M128 114.5H140Q144 116 141 119.5Q137 123 132.5 121.5Q129.5 119.5 132.5 117.5Q136 116.5 136.5 119" fill="none" stroke="#000" stroke-width="1" /><g transform="translate(151 106) scale(0.8)"><path d="M9.9 0.3L15.3 1L15.1 10L5.2 15L3.3 15.2L3.3 12Z" fill="#b4b4b4" stroke="#000" stroke-width="1.1" /><path d="M9.9 0.5L15.2 1.1L15.1 6.6L8.4 3.4Z" fill="#ff0000" stroke="#d00000" stroke-width="0.4" /><path d="M3.6 12.2L4.9 10.6L7.6 13.6L5.2 14.8L3.6 15Z" fill="#ff0000" stroke="#d00000" stroke-width="0.4" /><path d="M8.4 3.4L15.1 6.6M4.9 10.6L7.6 13.6" fill="none" stroke="#000" stroke-width="0.9" /><path d="M0.3 12L3.4 15.6" fill="none" stroke="#000" stroke-width="1" /></g><g shape-rendering="crispEdges"><rect x="149" y="120" width="16" height="1" fill="#000" /><rect x="149" y="118" width="1" height="5" fill="#000" /><rect x="153" y="119" width="1" height="3" fill="#000" /><rect x="156" y="119" width="1" height="3" fill="#000" /><rect x="159" y="119" width="1" height="3" fill="#000" /><rect x="162" y="119" width="1" height="3" fill="#000" /></g><g><circle cx="180" cy="114.5" r="7.3" fill="none" stroke="#000" stroke-width="1"/><path d="M184 109L188 106.5" fill="none" stroke="#000" stroke-width="1" /></g><g shape-rendering="crispEdges"><rect x="173" y="114" width="15" height="1" fill="#000" /><rect x="175" y="112" width="1" height="5" fill="#000" /><rect x="177" y="112" width="1" height="5" fill="#000" /><rect x="179" y="112" width="1" height="5" fill="#000" /><rect x="181" y="112" width="1" height="5" fill="#000" /><rect x="183" y="112" width="1" height="5" fill="#000" /><rect x="185" y="112" width="1" height="5" fill="#000" /></g><g shape-rendering="crispEdges"><rect x="197" y="109" width="1" height="11" fill="#000" /><rect x="201" y="109" width="1" height="11" fill="#000" /><rect x="205" y="109" width="1" height="11" fill="#000" /><rect x="209" y="109" width="1" height="11" fill="#000" /><rect x="195" y="114" width="16" height="1" fill="#000" /></g><g shape-rendering="crispEdges"><rect x="218" y="109" width="16" height="1" fill="#000" /><rect x="220" y="107" width="1" height="5" fill="#000" /><rect x="224" y="107" width="1" height="5" fill="#000" /><rect x="228" y="107" width="1" height="5" fill="#000" /><rect x="232" y="107" width="1" height="5" fill="#000" /></g><text x="221" y="122" font-size="11" fill="#000" >n</text><text x="227.5" y="118.5" font-size="8" fill="#000" >2</text><g><path d="M241.5 121.5L250.5 109L255 114.5Z" fill="none" stroke="#000" stroke-width="1" /><rect x="248" y="107" width="1" height="16" fill="#000" /><rect x="252" y="107" width="1" height="16" fill="#000" /><rect x="256" y="107" width="1" height="16" fill="#909090" /></g><g shape-rendering="crispEdges"><rect x="264" y="116" width="16" height="1" fill="#f00" /><rect x="271" y="107" width="1" height="16" fill="#f00" /></g><g><circle cx="271.5" cy="116.5" r="2.6" fill="none" stroke="#000" stroke-width="1"/><path d="M265.5 116.5A6.3 6.3 0 0 1 278 113.5" fill="none" stroke="#000" stroke-width="1" /></g><g><circle cx="294.5" cy="114.5" r="6.5" fill="none" stroke="#a0a0a0" stroke-width=".9"/><circle cx="294.5" cy="114.5" r="3.8" fill="none" stroke="#a0a0a0" stroke-width=".9"/><path d="M287.5 114.5H301.5M294.5 107.5V121.5" fill="none" stroke="#f00" stroke-width="1" stroke-dasharray="1 1"/><path d="M290.0 110.0L299.0 119.0M299.0 110.0L290.0 119.0" fill="none" stroke="#008080" stroke-width="1.2" /><path d="M292.0 114.5H297.0M294.5 112.0V117.0" fill="none" stroke="#f00" stroke-width="1.6" /></g><g><rect x="311.5" y="108.5" width="13" height="13" fill="none" stroke="#a8a8a8" stroke-width="1" /><rect x="313.5" y="110.5" width="9" height="9" fill="none" stroke="#a8a8a8" stroke-width="1" /><rect x="315.5" y="112.5" width="5" height="5" fill="none" stroke="#a8a8a8" stroke-width="1" /><rect x="317" y="114" width="2" height="2" fill="#f00" /><rect x="310" y="107" width="1.5" height="1.5" fill="#f00" /><rect x="324.5" y="107" width="1.5" height="1.5" fill="#f00" /><rect x="310" y="121.5" width="1.5" height="1.5" fill="#f00" /><rect x="324.5" y="121.5" width="1.5" height="1.5" fill="#f00" /><rect x="313" y="110" width="1.5" height="1.5" fill="#f00" /><rect x="322" y="110" width="1.5" height="1.5" fill="#f00" /><rect x="313" y="119" width="1.5" height="1.5" fill="#f00" /><rect x="322" y="119" width="1.5" height="1.5" fill="#f00" /><rect x="315.5" y="112.5" width="1.5" height="1.5" fill="#f00" /><rect x="319.5" y="112.5" width="1.5" height="1.5" fill="#f00" /><rect x="315.5" y="116.5" width="1.5" height="1.5" fill="#f00" /><rect x="319.5" y="116.5" width="1.5" height="1.5" fill="#f00" /><rect x="317.5" y="107" width="1" height="1.5" fill="#008080" /><rect x="317.5" y="122" width="1" height="1.5" fill="#008080" /><rect x="310" y="114.5" width="1" height="1.5" fill="#008080" /><rect x="325" y="114.5" width="1" height="1.5" fill="#008080" /><rect x="317.5" y="110" width="1" height="1.5" fill="#008080" /><rect x="317.5" y="119.5" width="1" height="1.5" fill="#008080" /><rect x="313" y="114.5" width="1" height="1.5" fill="#008080" /><rect x="322.5" y="114.5" width="1" height="1.5" fill="#008080" /></g><g><rect x="334" y="108" width="1" height="14" fill="#000" /><rect x="341" y="108" width="1" height="14" fill="#000" /><path d="M334.5 118L341.5 109" fill="none" stroke="#000" stroke-width="1.2" /><rect x="345" y="108" width="1" height="3" fill="#000" /><rect x="347" y="108" width="1" height="3" fill="#000" /></g><g shape-rendering="crispEdges"><rect x="356" y="109" width="16" height="1" fill="#000" /><rect x="356" y="107" width="1" height="5" fill="#000" /><rect x="364" y="107" width="1" height="5" fill="#000" /><rect x="371" y="107" width="1" height="5" fill="#000" /></g><text x="365" y="122" font-size="11" fill="#f00" text-anchor="middle" stroke="#f00" stroke-width=".45">神</text><g shape-rendering="crispEdges"><rect x="379" y="109" width="16" height="1" fill="#000" /><rect x="379" y="107" width="1" height="5" fill="#000" /><rect x="394" y="107" width="1" height="5" fill="#000" /></g><text x="387" y="122.3" font-size="11.5" fill="#f00" text-anchor="middle" stroke="#f00" stroke-width=".45">赢</text><g shape-rendering="crispEdges"><rect x="403" y="108" width="14" height="1" fill="#000" /><rect x="403" y="108" width="1" height="14" fill="#000" /><rect x="416" y="108" width="1" height="10" fill="#000" /><rect x="405" y="110" width="11" height="1" fill="#000" opacity=".55"/><rect x="405" y="112" width="11" height="1" fill="#000" opacity=".55"/><rect x="405" y="114" width="11" height="1" fill="#000" opacity=".55"/><rect x="405" y="116" width="11" height="1" fill="#000" opacity=".55"/><rect x="406" y="119" width="1" height="3" fill="#000" /><rect x="409" y="119" width="2" height="3" fill="#000" /><rect x="413" y="119" width="2" height="3" fill="#000" /></g><g shape-rendering="crispEdges"><rect x="425" y="109" width="1" height="11" fill="#000" /><rect x="432" y="107" width="1" height="16" fill="#000" /><rect x="439" y="109" width="1" height="11" fill="#000" /><rect x="426" y="113" width="13" height="1" fill="#000" /></g><path d="M428 111.5L426.5 113.5L428 115.5ZM437 111.5L438.5 113.5L437 115.5Z" fill="#000" stroke="#000" stroke-width="0.8" /><g shape-rendering="crispEdges"><rect x="446" y="102" width="1" height="25" fill="#a0a0a0" /><rect x="447" y="102" width="1" height="25" fill="#ffffff" /></g><g shape-rendering="crispEdges"><rect x="452" y="105" width="1" height="20" fill="#a0a0a0" /><rect x="451" y="124" width="1" height="1" fill="#a0a0a0" /><rect x="453" y="105" width="1" height="20" fill="#fbfbfb" /></g><g><rect x="463.65" y="108.65" width="8.7" height="8.7" fill="none" stroke="#000" stroke-width="1.3" /><rect x="459" y="109" width="3" height="1" fill="#909090" /><rect x="459" y="116" width="3" height="1" fill="#909090" /><rect x="460" y="109" width="1" height="8" fill="#909090" /><rect x="464" y="121" width="1" height="3" fill="#909090" /><rect x="471" y="121" width="1" height="3" fill="#909090" /><rect x="464" y="122" width="8" height="1" fill="#909090" /></g><g><path d="M482 122L489.5 107" fill="none" stroke="#f00" stroke-width="1.1" /><path d="M482 122L496 107.5" fill="none" stroke="#000" stroke-width="1.1" /><path d="M482 122L496.5 114" fill="none" stroke="#f00" stroke-width="1.1" /><path d="M482 122L484.5 107" fill="none" stroke="#900000" stroke-width="1.1" /><path d="M482 122L497 119" fill="none" stroke="#900000" stroke-width="1.1" /><rect x="481" y="121" width="2" height="2" fill="#f00" /></g><g><path d="M504.8 122L508.5 107M504.8 122L513 107" fill="none" stroke="#8000a0" stroke-width="1" /><path d="M504.8 122L519.5 118M504.8 122L520 113.5" fill="none" stroke="#8000a0" stroke-width="1" /><rect x="504.65" y="109.65" width="12.7" height="12.7" fill="none" stroke="#000" stroke-width="1.3" /><path d="M504.8 122L519 107.5" fill="none" stroke="#f00" stroke-width="1.2" /><path d="M504.8 122L514 108M504.8 122L519.5 113" fill="none" stroke="#900000" stroke-width="1" /></g><g><path d="M527.6 107.5L531.5 122M527.6 107.5L542.5 111.5" fill="none" stroke="#8000a0" stroke-width="1" /><rect x="527.65" y="107.65" width="12.7" height="12.7" fill="none" stroke="#000" stroke-width="1.3" /><path d="M527.6 107.5L543 122.5" fill="none" stroke="#f00" stroke-width="1.2" /><path d="M527.6 107.5L537 122M527.6 107.5L543 117" fill="none" stroke="#900000" stroke-width="1" /></g><g><path d="M550.5 122L566 107M550.5 122L566 114M550.5 122L566 118.5" fill="none" stroke="#000" stroke-width="1" /><path d="M550 122.5L554.5 120L553 118.5Z" fill="#000" stroke="#000" stroke-width="0.5" /></g><g><path d="M573.2 108.3L579.4 121.4L584.5 112.7L587.9 116.4" fill="none" stroke="#000" stroke-width="1" /><path d="M573 122.5H589" fill="none" stroke="#606060" stroke-width="1" stroke-dasharray="1 1"/></g><g><rect x="596.5" y="107" width="1" height="15" fill="#a0a0a0" /><rect x="595.5" y="108.0" width="15" height="1" fill="#a0a0a0" /><rect x="599.75" y="107" width="1" height="15" fill="#a0a0a0" /><rect x="595.5" y="111.25" width="15" height="1" fill="#a0a0a0" /><rect x="603.0" y="107" width="1" height="15" fill="#a0a0a0" /><rect x="595.5" y="114.5" width="15" height="1" fill="#a0a0a0" /><rect x="606.25" y="107" width="1" height="15" fill="#a0a0a0" /><rect x="595.5" y="117.75" width="15" height="1" fill="#a0a0a0" /><rect x="609.5" y="107" width="1" height="15" fill="#a0a0a0" /><rect x="595.5" y="121.0" width="15" height="1" fill="#a0a0a0" /><rect x="596.5" y="108.0" width="1.3" height="1.3" fill="#f00" /><rect x="596.5" y="114.5" width="1.3" height="1.3" fill="#f00" /><rect x="596.5" y="121.0" width="1.3" height="1.3" fill="#f00" /><rect x="599.75" y="111.25" width="1.3" height="1.3" fill="#f00" /><rect x="599.75" y="117.75" width="1.3" height="1.3" fill="#f00" /><rect x="603.0" y="108.0" width="1.3" height="1.3" fill="#f00" /><rect x="603.0" y="114.5" width="1.3" height="1.3" fill="#f00" /><rect x="603.0" y="121.0" width="1.3" height="1.3" fill="#f00" /><rect x="606.25" y="111.25" width="1.3" height="1.3" fill="#f00" /><rect x="606.25" y="117.75" width="1.3" height="1.3" fill="#f00" /><rect x="609.5" y="108.0" width="1.3" height="1.3" fill="#f00" /><rect x="609.5" y="114.5" width="1.3" height="1.3" fill="#f00" /><rect x="609.5" y="121.0" width="1.3" height="1.3" fill="#f00" /></g><g><circle cx="603.5" cy="114.5" r="2" fill="none" stroke="#909090" stroke-width=".8"/><circle cx="598.5" cy="110" r="1.3" fill="#f0f0f0" stroke="#909090" stroke-width=".7"/><circle cx="608.5" cy="110" r="1.3" fill="#f0f0f0" stroke="#909090" stroke-width=".7"/><circle cx="598.5" cy="119.5" r="1.3" fill="#f0f0f0" stroke="#909090" stroke-width=".7"/><circle cx="608.5" cy="119.5" r="1.3" fill="#f0f0f0" stroke="#909090" stroke-width=".7"/></g><g><rect x="620.0" y="107" width="1" height="15" fill="#a0a0a0" /><rect x="619" y="108.0" width="15" height="1" fill="#a0a0a0" /><rect x="623.25" y="107" width="1" height="15" fill="#a0a0a0" /><rect x="619" y="111.25" width="15" height="1" fill="#a0a0a0" /><rect x="626.5" y="107" width="1" height="15" fill="#a0a0a0" /><rect x="619" y="114.5" width="15" height="1" fill="#a0a0a0" /><rect x="629.75" y="107" width="1" height="15" fill="#a0a0a0" /><rect x="619" y="117.75" width="15" height="1" fill="#a0a0a0" /><rect x="633.0" y="107" width="1" height="15" fill="#a0a0a0" /><rect x="619" y="121.0" width="15" height="1" fill="#a0a0a0" /><rect x="620.0" y="108.0" width="1.3" height="1.3" fill="#f00" /><rect x="620.0" y="114.5" width="1.3" height="1.3" fill="#f00" /><rect x="620.0" y="121.0" width="1.3" height="1.3" fill="#f00" /><rect x="623.25" y="111.25" width="1.3" height="1.3" fill="#f00" /><rect x="623.25" y="117.75" width="1.3" height="1.3" fill="#f00" /><rect x="626.5" y="108.0" width="1.3" height="1.3" fill="#f00" /><rect x="626.5" y="114.5" width="1.3" height="1.3" fill="#f00" /><rect x="626.5" y="121.0" width="1.3" height="1.3" fill="#f00" /><rect x="629.75" y="111.25" width="1.3" height="1.3" fill="#f00" /><rect x="629.75" y="117.75" width="1.3" height="1.3" fill="#f00" /><rect x="633.0" y="108.0" width="1.3" height="1.3" fill="#f00" /><rect x="633.0" y="114.5" width="1.3" height="1.3" fill="#f00" /><rect x="633.0" y="121.0" width="1.3" height="1.3" fill="#f00" /></g><g><circle cx="627" cy="114.5" r="2" fill="none" stroke="#909090" stroke-width=".8"/><circle cx="622" cy="110" r="1.3" fill="#f0f0f0" stroke="#909090" stroke-width=".7"/><circle cx="632" cy="110" r="1.3" fill="#f0f0f0" stroke="#909090" stroke-width=".7"/><circle cx="622" cy="119.5" r="1.3" fill="#f0f0f0" stroke="#909090" stroke-width=".7"/><circle cx="632" cy="119.5" r="1.3" fill="#f0f0f0" stroke="#909090" stroke-width=".7"/></g><g><rect x="618" y="108" width="1.5" height="14" fill="#000" /><rect x="618" y="121" width="15" height="1.5" fill="#000" /><path d="M616.5 110L618.7 106.5L621 110M630 119L633.5 121.7L630 124" fill="none" stroke="#000" stroke-width="1" /></g><g><rect x="642" y="108" width="1" height="14" fill="#909090" /><rect x="653" y="107" width="1" height="13" fill="#909090" /><path d="M642.5 114L657 107M642.5 118L657 111M642.5 121.5L657 114.5" fill="none" stroke="#000" stroke-width="1" /></g><g shape-rendering="crispEdges"><rect x="664" y="102" width="1" height="25" fill="#a0a0a0" /><rect x="665" y="102" width="1" height="25" fill="#ffffff" /></g><g shape-rendering="crispEdges"><rect x="669" y="105" width="1" height="20" fill="#a0a0a0" /><rect x="668" y="124" width="1" height="1" fill="#a0a0a0" /><rect x="670" y="105" width="1" height="20" fill="#fbfbfb" /></g><g shape-rendering="crispEdges"><rect x="676" y="108" width="1.3" height="14" fill="#000" /><rect x="684" y="108" width="1.3" height="14" fill="#000" /><rect x="676" y="121" width="14" height="1.3" fill="#000" /><rect x="677" y="109" width="7" height="1" fill="#000" /><rect x="677" y="111" width="5" height="1" fill="#000" /><rect x="677" y="113" width="7" height="1" fill="#000" /><rect x="677" y="115" width="5" height="1" fill="#000" /><rect x="677" y="117" width="7" height="1" fill="#000" /><rect x="677" y="119" width="5" height="1" fill="#000" /><rect x="686" y="109" width="3" height="1" fill="#000" /><rect x="687" y="112" width="2" height="1" fill="#000" /><rect x="686" y="115" width="3" height="1" fill="#000" /><rect x="687" y="118" width="2" height="1" fill="#000" /></g><g><rect x="698" y="107" width="16" height="1.3" fill="#f00" /><rect x="698" y="122" width="5" height="1.3" fill="#f00" /><path d="M701 122L706 108.5L710 113L713.5 108.5" fill="none" stroke="#000" stroke-width="1.1" /></g><text x="705" y="122.8" font-size="10.5" fill="#f00" textLength="9" lengthAdjust="spacingAndGlyphs" stroke="#f00" stroke-width=".3">%</text><text x="722.3" y="121.4" font-size="17" fill="#000" textLength="12.5" lengthAdjust="spacingAndGlyphs" stroke="#000" stroke-width=".3">%</text><g shape-rendering="crispEdges"><rect x="744" y="107" width="16" height="1" fill="#000" /><rect x="752" y="110" width="8" height="1" fill="#000" /><rect x="752" y="115" width="8" height="1" fill="#000" /><rect x="753" y="119" width="7" height="1" fill="#000" /><rect x="744" y="122" width="16" height="1" fill="#000" /></g><text x="743.8" y="120.8" font-size="10.5" fill="#f00" textLength="9" lengthAdjust="spacingAndGlyphs" stroke="#f00" stroke-width=".3">%</text><circle cx="775" cy="114.5" r="7.6" fill="#f6f6f6" stroke="#a8a8a8" stroke-width="1"/><text x="775" y="118.8" font-size="11" fill="#808000" text-anchor="middle" stroke="#808000" stroke-width=".45">金</text><g shape-rendering="crispEdges"><rect x="790" y="107" width="16" height="1" fill="#000" /><rect x="798" y="110" width="8" height="1" fill="#000" /><rect x="800" y="116" width="6" height="1" fill="#000" /><rect x="790" y="122" width="16" height="1" fill="#000" /></g><text x="789.5" y="120.8" font-size="10.5" fill="#808000" stroke="#808000" stroke-width=".45">金</text><g shape-rendering="crispEdges"><rect x="815" y="107" width="1" height="16" fill="#000" /><rect x="813" y="110" width="5" height="1" fill="#000" /><rect x="813" y="112.5" width="5" height="1" fill="#000" /><rect x="813" y="115" width="5" height="1" fill="#000" /><rect x="813" y="122" width="6" height="1" fill="#000" /></g><g transform="translate(817 108) scale(0.85)"><path d="M9.9 0.3L15.3 1L15.1 10L5.2 15L3.3 15.2L3.3 12Z" fill="#b4b4b4" stroke="#000" stroke-width="1.1" /><path d="M9.9 0.5L15.2 1.1L15.1 6.6L8.4 3.4Z" fill="#ff0000" stroke="#d00000" stroke-width="0.4" /><path d="M3.6 12.2L4.9 10.6L7.6 13.6L5.2 14.8L3.6 15Z" fill="#ff0000" stroke="#d00000" stroke-width="0.4" /><path d="M8.4 3.4L15.1 6.6M4.9 10.6L7.6 13.6" fill="none" stroke="#000" stroke-width="0.9" /><path d="M0.3 12L3.4 15.6" fill="none" stroke="#000" stroke-width="1" /></g><g><rect x="836" y="107" width="16" height="1.3" fill="#f00" /><rect x="836" y="122" width="16" height="1.3" fill="#f00" /><rect x="836" y="114" width="16" height="1" fill="#404040" /><path d="M836.5 118Q838.5 104 841 114.5T845.5 118Q848 122 850 110L851.5 108" fill="none" stroke="#909090" stroke-width="1" /></g><g shape-rendering="crispEdges"><rect x="859" y="107" width="16" height="1.3" fill="#f00" /><rect x="859" y="122" width="16" height="1.3" fill="#f00" /></g><text x="867" y="119.3" font-size="12.5" fill="#808000" text-anchor="middle" stroke="#808000" stroke-width=".45">金</text><g><path d="M882.5 122.5L897.5 107.5" fill="none" stroke="#000" stroke-width="1.2" /><g shape-rendering="crispEdges"><rect x="888" y="117" width="10" height="1" fill="#000" /><rect x="885" y="119.5" width="13" height="1" fill="#000" /><rect x="882" y="122" width="16" height="1" fill="#000" /></g></g><text x="882" y="115.3" font-size="11.5" fill="#f00" stroke="#f00" stroke-width=".35">J</text><g><path d="M905.5 122.5L920.5 107.5" fill="none" stroke="#000" stroke-width="1.2" /><g shape-rendering="crispEdges"><rect x="911" y="117" width="10" height="1" fill="#000" /><rect x="908" y="119.5" width="13" height="1" fill="#000" /><rect x="905" y="122" width="16" height="1" fill="#000" /></g></g><text x="905" y="116" font-size="12" fill="#f00" font-weight="bold">F</text><text x="927.5" y="117" font-size="10.5" fill="#808000" stroke="#808000" stroke-width=".45">金</text><g><path d="M928.5 122.5L943.5 107.5" fill="none" stroke="#000" stroke-width="1.2" /><g shape-rendering="crispEdges"><rect x="934" y="117" width="10" height="1" fill="#000" /><rect x="931" y="119.5" width="13" height="1" fill="#000" /><rect x="928" y="122" width="16" height="1" fill="#000" /></g></g><text x="950.5" y="117" font-size="11" fill="#f00" stroke="#f00" stroke-width=".45">神</text><g><path d="M951.5 122.5L966.5 107.5" fill="none" stroke="#000" stroke-width="1.2" /><g shape-rendering="crispEdges"><rect x="957" y="117" width="10" height="1" fill="#000" /><rect x="954" y="119.5" width="13" height="1" fill="#000" /><rect x="951" y="122" width="16" height="1" fill="#000" /></g></g><text x="973.5" y="117.5" font-size="11.5" fill="#f00" stroke="#f00" stroke-width=".45">赢</text><g><path d="M974.5 122.5L989.5 107.5" fill="none" stroke="#000" stroke-width="1.2" /><g shape-rendering="crispEdges"><rect x="980" y="117" width="10" height="1" fill="#000" /><rect x="977" y="119.5" width="13" height="1" fill="#000" /><rect x="974" y="122" width="16" height="1" fill="#000" /></g></g><text x="996.5" y="116.3" font-size="10.5" fill="#f00" stroke="#f00" stroke-width=".45">四</text><g><path d="M997.5 122.5L1012.5 107.5" fill="none" stroke="#000" stroke-width="1.2" /><g shape-rendering="crispEdges"><rect x="1003" y="117" width="10" height="1" fill="#000" /><rect x="1000" y="119.5" width="13" height="1" fill="#000" /><rect x="997" y="122" width="16" height="1" fill="#000" /></g></g></svg>
<svg class="chart" width="1244" height="583" viewBox="0 0 1244 583" shape-rendering="crispEdges">
<rect x="70" y="140" width="1174" height="1" fill="#a0a0a0"/>
<line x1="70" y1="524.5" x2="1244" y2="524.5" stroke="#9a9a9a" stroke-width="1" stroke-dasharray="3 3"/>
<line x1="70" y1="542.5" x2="1244" y2="542.5" stroke="#9a9a9a" stroke-width="1" stroke-dasharray="3 3"/>
<line x1="70" y1="558.5" x2="1244" y2="558.5" stroke="#9a9a9a" stroke-width="1" stroke-dasharray="3 3"/>
<line x1="70" y1="574.5" x2="1244" y2="574.5" stroke="#9a9a9a" stroke-width="1" stroke-dasharray="3 3"/>
<line x1="1036" y1="323.5" x2="1244" y2="323.5" stroke="#808080" stroke-width="1" stroke-dasharray="6 1"/>
<path d="M70 256h6v24h-6zM70 531h6v52h-6zM91 262h6v6h-6zM94 268h1v11h-1zM91 529h6v54h-6zM98 269h6v4h-6zM101 264h1v5h-1zM101 273h1v3h-1zM98 529h6v54h-6zM105 276h6v20h-6zM105 537h6v46h-6zM140 265h6v12h-6zM143 277h1v2h-1zM140 533h6v50h-6zM161 252h6v2h-6zM164 254h1v7h-1zM161 532h6v51h-6zM168 257h6v19h-6zM171 276h1v4h-1zM168 531h6v52h-6zM175 271h6v7h-6zM178 267h1v4h-1zM178 278h1v2h-1zM175 542h6v41h-6zM196 258h6v9h-6zM199 267h1v3h-1zM196 534h6v49h-6zM203 265h6v16h-6zM206 259h1v6h-1zM206 281h1v3h-1zM203 535h6v48h-6zM210 284h6v7h-6zM213 282h1v2h-1zM213 291h1v3h-1zM210 551h6v32h-6zM217 292h6v16h-6zM220 289h1v3h-1zM220 308h1v4h-1zM217 547h6v36h-6zM224 306h6v1h-6zM227 305h1v1h-1zM227 307h1v5h-1zM224 557h6v26h-6zM231 307h6v3h-6zM234 293h1v14h-1zM234 310h1v19h-1zM231 536h6v47h-6zM245 296h6v7h-6zM248 303h1v3h-1zM245 549h6v34h-6zM259 296h6v3h-6zM262 294h1v2h-1zM262 299h1v2h-1zM259 561h6v22h-6zM273 299h6v5h-6zM276 290h1v9h-1zM276 304h1v1h-1zM273 552h6v31h-6zM280 306h6v3h-6zM283 304h1v2h-1zM283 309h1v5h-1zM280 559h6v24h-6zM287 314h6v8h-6zM290 311h1v3h-1zM290 322h1v1h-1zM287 559h6v24h-6zM308 316h6v16h-6zM308 557h6v26h-6zM336 272h6v3h-6zM339 271h1v1h-1zM339 275h1v5h-1zM336 543h6v40h-6zM357 269h6v5h-6zM360 267h1v2h-1zM360 274h1v4h-1zM357 547h6v36h-6zM371 281h6v1h-6zM374 278h1v3h-1zM374 282h1v2h-1zM371 552h6v31h-6zM392 261h6v1h-6zM395 259h1v2h-1zM395 262h1v4h-1zM392 549h6v34h-6zM420 244h6v3h-6zM423 247h1v3h-1zM420 544h6v39h-6zM427 250h6v3h-6zM430 249h1v1h-1zM430 253h1v3h-1zM427 551h6v32h-6zM434 250h6v2h-6zM437 248h1v2h-1zM437 252h1v2h-1zM434 555h6v28h-6zM441 250h6v1h-6zM444 246h1v4h-1zM444 251h1v4h-1zM441 549h6v34h-6zM448 257h6v13h-6zM451 270h1v6h-1zM448 549h6v34h-6zM469 274h6v19h-6zM472 272h1v2h-1zM472 293h1v1h-1zM469 552h6v31h-6zM476 293h6v5h-6zM479 292h1v1h-1zM479 298h1v2h-1zM476 560h6v23h-6zM483 299h6v1h-6zM486 296h1v3h-1zM486 300h1v2h-1zM483 566h6v17h-6zM490 297h6v13h-6zM493 295h1v2h-1zM490 562h6v21h-6zM497 310h6v23h-6zM500 333h1v1h-1zM497 557h6v26h-6zM511 329h6v1h-6zM514 320h1v9h-1zM514 330h1v5h-1zM511 563h6v20h-6zM525 324h6v15h-6zM528 339h1v1h-1zM525 560h6v23h-6zM539 321h6v6h-6zM542 320h1v1h-1zM542 327h1v1h-1zM539 562h6v21h-6zM553 319h6v1h-6zM556 320h1v5h-1zM553 564h6v19h-6zM560 326h6v8h-6zM563 334h1v4h-1zM560 558h6v25h-6zM567 337h6v16h-6zM570 353h1v7h-1zM567 556h6v27h-6zM581 352h6v1h-6zM584 346h1v6h-1zM584 353h1v5h-1zM581 563h6v20h-6zM588 356h6v7h-6zM591 349h1v7h-1zM591 363h1v1h-1zM588 561h6v22h-6zM595 366h6v6h-6zM598 364h1v2h-1zM598 372h1v1h-1zM595 561h6v22h-6zM602 371h6v3h-6zM605 369h1v2h-1zM605 374h1v2h-1zM602 565h6v18h-6zM616 366h6v1h-6zM619 364h1v2h-1zM619 367h1v5h-1zM616 564h6v19h-6zM630 369h6v6h-6zM633 375h1v1h-1zM630 565h6v18h-6zM637 378h6v5h-6zM640 376h1v2h-1zM640 383h1v3h-1zM637 569h6v14h-6zM658 353h6v2h-6zM661 352h1v1h-1zM661 355h1v3h-1zM658 558h6v25h-6zM672 355h6v6h-6zM675 361h1v2h-1zM672 556h6v27h-6zM693 354h6v6h-6zM696 360h1v2h-1zM693 566h6v17h-6zM728 322h6v3h-6zM731 314h1v8h-1zM731 325h1v2h-1zM728 535h6v48h-6zM749 307h6v8h-6zM752 315h1v3h-1zM749 536h6v47h-6zM763 297h6v8h-6zM766 285h1v12h-1zM766 305h1v1h-1zM763 531h6v52h-6zM770 309h6v9h-6zM773 318h1v8h-1zM770 545h6v38h-6zM777 326h6v12h-6zM780 338h1v9h-1zM777 543h6v40h-6zM784 338h6v21h-6zM787 334h1v4h-1zM787 359h1v5h-1zM784 537h6v46h-6zM826 340h6v10h-6zM829 350h1v1h-1zM826 549h6v34h-6zM840 348h6v1h-6zM843 337h1v11h-1zM843 349h1v3h-1zM840 551h6v32h-6zM847 356h6v23h-6zM850 379h1v1h-1zM847 546h6v37h-6zM875 374h6v1h-6zM878 370h1v4h-1zM878 375h1v7h-1zM875 557h6v26h-6zM889 364h6v1h-6zM892 361h1v3h-1zM892 365h1v3h-1zM889 553h6v30h-6zM903 369h6v13h-6zM906 363h1v6h-1zM903 548h6v35h-6zM931 341h6v3h-6zM934 340h1v1h-1zM934 344h1v3h-1zM931 551h6v32h-6zM938 346h6v7h-6zM941 340h1v6h-1zM941 353h1v3h-1zM938 545h6v38h-6zM945 354h6v1h-6zM948 348h1v6h-1zM948 355h1v4h-1zM945 544h6v39h-6zM952 356h6v4h-6zM955 354h1v2h-1zM955 360h1v6h-1zM952 554h6v29h-6zM973 345h6v9h-6zM976 354h1v5h-1zM973 549h6v34h-6zM1022 312h6v13h-6zM1025 325h1v1h-1zM1022 549h6v34h-6z" fill="#008000" fill-rule="evenodd"/>
<path d="M77 277h6v3h-6zM78 278v1h4v-1zM80 274h1v3h-1zM80 280h1v7h-1zM77 546h6v37h-6zM78 547v37h4v-37zM84 261h6v12h-6zM85 262v10h4v-10zM87 260h1v1h-1zM84 540h6v43h-6zM85 541v43h4v-43zM112 294h6v3h-6zM113 295v1h4v-1zM115 290h1v4h-1zM115 297h1v1h-1zM112 550h6v33h-6zM113 551v33h4v-33zM119 286h6v3h-6zM120 287v1h4v-1zM122 285h1v1h-1zM122 289h1v2h-1zM119 556h6v27h-6zM120 557v27h4v-27zM126 273h6v14h-6zM127 274v12h4v-12zM129 271h1v2h-1zM129 287h1v6h-1zM126 542h6v41h-6zM127 543v41h4v-41zM133 266h6v10h-6zM134 267v8h4v-8zM136 276h1v4h-1zM133 540h6v43h-6zM134 541v43h4v-43zM147 257h6v14h-6zM148 258v12h4v-12zM147 531h6v52h-6zM148 532v52h4v-52zM154 252h6v3h-6zM155 253v1h4v-1zM157 249h1v3h-1zM157 255h1v3h-1zM154 528h6v55h-6zM155 529v55h4v-55zM182 276h6v2h-6zM185 271h1v5h-1zM185 278h1v2h-1zM182 551h6v32h-6zM183 552v32h4v-32zM189 257h6v16h-6zM190 258v14h4v-14zM192 256h1v1h-1zM192 273h1v3h-1zM189 538h6v45h-6zM190 539v45h4v-45zM238 294h6v17h-6zM239 295v15h4v-15zM241 292h1v2h-1zM241 311h1v3h-1zM238 546h6v37h-6zM239 547v37h4v-37zM252 299h6v5h-6zM253 300v3h4v-3zM255 297h1v2h-1zM255 304h1v4h-1zM252 556h6v27h-6zM253 557v27h4v-27zM266 295h6v9h-6zM267 296v7h4v-7zM269 304h1v8h-1zM266 556h6v27h-6zM267 557v27h4v-27zM294 320h6v4h-6zM295 321v2h4v-2zM297 318h1v2h-1zM297 324h1v5h-1zM294 564h6v19h-6zM295 565v19h4v-19zM301 311h6v8h-6zM302 312v6h4v-6zM304 319h1v1h-1zM301 560h6v23h-6zM302 561v23h4v-23zM315 326h6v6h-6zM316 327v4h4v-4zM318 324h1v2h-1zM318 332h1v5h-1zM315 558h6v25h-6zM316 559v25h4v-25zM322 306h6v18h-6zM323 307v16h4v-16zM325 297h1v9h-1zM325 324h1v1h-1zM322 542h6v41h-6zM323 543v41h4v-41zM329 274h6v25h-6zM330 275v23h4v-23zM332 273h1v1h-1zM332 299h1v3h-1zM329 530h6v53h-6zM330 531v53h4v-53zM343 269h6v2h-6zM346 268h1v1h-1zM346 271h1v8h-1zM343 546h6v37h-6zM344 547v37h4v-37zM350 269h6v4h-6zM351 270v2h4v-2zM353 273h1v11h-1zM350 538h6v45h-6zM351 539v45h4v-45zM364 280h6v1h-6zM367 267h1v13h-1zM364 550h6v33h-6zM365 551v33h4v-33zM378 272h6v9h-6zM379 273v7h4v-7zM381 268h1v4h-1zM381 281h1v3h-1zM378 546h6v37h-6zM379 547v37h4v-37zM385 262h6v8h-6zM386 263v6h4v-6zM388 254h1v8h-1zM385 540h6v43h-6zM386 541v43h4v-43zM399 268h6v3h-6zM400 269v1h4v-1zM402 254h1v14h-1zM402 271h1v16h-1zM399 524h6v59h-6zM400 525v59h4v-59zM406 260h6v14h-6zM407 261v12h4v-12zM409 257h1v3h-1zM409 274h1v2h-1zM406 548h6v35h-6zM407 549v35h4v-35zM413 245h6v16h-6zM414 246v14h4v-14zM416 240h1v5h-1zM416 261h1v2h-1zM413 530h6v53h-6zM414 531v53h4v-53zM455 271h6v2h-6zM458 265h1v6h-1zM458 273h1v1h-1zM455 558h6v25h-6zM456 559v25h4v-25zM462 274h6v4h-6zM463 275v2h4v-2zM465 270h1v4h-1zM465 278h1v3h-1zM462 558h6v25h-6zM463 559v25h4v-25zM504 331h6v1h-6zM507 326h1v5h-1zM507 332h1v9h-1zM504 564h6v19h-6zM505 565v19h4v-19zM518 322h6v5h-6zM519 323v3h4v-3zM521 327h1v4h-1zM518 566h6v17h-6zM519 567v17h4v-17zM532 325h6v13h-6zM533 326v11h4v-11zM535 320h1v5h-1zM535 338h1v3h-1zM532 561h6v22h-6zM533 562v22h4v-22zM546 317h6v13h-6zM547 318v11h4v-11zM549 315h1v2h-1zM549 330h1v2h-1zM546 560h6v23h-6zM547 561v23h4v-23zM574 352h6v7h-6zM575 353v5h4v-5zM577 351h1v1h-1zM577 359h1v3h-1zM574 566h6v17h-6zM575 567v17h4v-17zM609 364h6v10h-6zM610 365v8h4v-8zM612 374h1v4h-1zM609 563h6v20h-6zM610 564v20h4v-20zM623 365h6v1h-6zM626 360h1v5h-1zM626 366h1v2h-1zM623 562h6v21h-6zM624 563v21h4v-21zM644 374h6v8h-6zM645 375v6h4v-6zM647 371h1v3h-1zM644 568h6v15h-6zM645 569v15h4v-15zM651 351h6v21h-6zM652 352v19h4v-19zM654 372h1v2h-1zM651 553h6v30h-6zM652 554v30h4v-30zM665 350h6v9h-6zM666 351v7h4v-7zM668 346h1v4h-1zM668 359h1v1h-1zM665 556h6v27h-6zM666 557v27h4v-27zM679 358h6v1h-6zM682 354h1v4h-1zM682 359h1v5h-1zM679 563h6v20h-6zM680 564v20h4v-20zM686 352h6v4h-6zM687 353v2h4v-2zM689 350h1v2h-1zM689 356h1v1h-1zM686 562h6v21h-6zM687 563v21h4v-21zM700 355h6v11h-6zM701 356v9h4v-9zM703 366h1v5h-1zM700 562h6v21h-6zM701 563v21h4v-21zM707 333h6v18h-6zM708 334v16h4v-16zM707 543h6v40h-6zM708 544v40h4v-40zM714 323h6v10h-6zM715 324v8h4v-8zM717 320h1v3h-1zM717 333h1v2h-1zM714 536h6v47h-6zM715 537v47h4v-47zM721 320h6v3h-6zM722 321v1h4v-1zM724 323h1v4h-1zM721 542h6v41h-6zM722 543v41h4v-41zM735 317h6v9h-6zM736 318v7h4v-7zM738 326h1v2h-1zM735 548h6v35h-6zM736 549v35h4v-35zM742 307h6v5h-6zM743 308v3h4v-3zM745 306h1v1h-1zM745 312h1v4h-1zM742 538h6v45h-6zM743 539v45h4v-45zM756 303h6v13h-6zM757 304v11h4v-11zM759 297h1v6h-1zM759 316h1v4h-1zM756 533h6v50h-6zM757 534v50h4v-50zM791 357h6v6h-6zM792 358v4h4v-4zM794 363h1v7h-1zM791 548h6v35h-6zM792 549v35h4v-35zM798 353h6v1h-6zM801 342h1v11h-1zM801 354h1v4h-1zM798 540h6v43h-6zM799 541v43h4v-43zM805 349h6v7h-6zM806 350v5h4v-5zM808 356h1v12h-1zM805 548h6v35h-6zM806 549v35h4v-35zM812 339h6v12h-6zM813 340v10h4v-10zM815 337h1v2h-1zM815 351h1v2h-1zM812 542h6v41h-6zM813 543v41h4v-41zM819 341h6v1h-6zM822 342h1v9h-1zM819 546h6v37h-6zM820 547v37h4v-37zM833 347h6v5h-6zM834 348v3h4v-3zM836 345h1v2h-1zM836 352h1v10h-1zM833 550h6v33h-6zM834 551v33h4v-33zM854 378h6v3h-6zM855 379v1h4v-1zM857 376h1v2h-1zM857 381h1v5h-1zM854 556h6v27h-6zM855 557v27h4v-27zM861 380h6v1h-6zM864 373h1v7h-1zM864 381h1v11h-1zM861 552h6v31h-6zM862 553v31h4v-31zM868 368h6v9h-6zM869 369v7h4v-7zM871 363h1v5h-1zM871 377h1v2h-1zM868 552h6v31h-6zM869 553v31h4v-31zM882 366h6v6h-6zM883 367v4h4v-4zM885 372h1v6h-1zM882 558h6v25h-6zM883 559v25h4v-25zM896 368h6v1h-6zM899 369h1v7h-1zM896 554h6v29h-6zM897 555v29h4v-29zM910 353h6v31h-6zM911 354v29h4v-29zM913 351h1v2h-1zM913 384h1v1h-1zM910 536h6v47h-6zM911 537v47h4v-47zM917 343h6v8h-6zM918 344v6h4v-6zM920 339h1v4h-1zM920 351h1v3h-1zM917 534h6v49h-6zM918 535v49h4v-49zM924 343h6v1h-6zM927 336h1v7h-1zM927 344h1v3h-1zM924 540h6v43h-6zM925 541v43h4v-43zM959 353h6v8h-6zM960 354v6h4v-6zM962 361h1v2h-1zM959 558h6v25h-6zM960 559v25h4v-25zM966 347h6v4h-6zM967 348v2h4v-2zM969 346h1v1h-1zM969 351h1v2h-1zM966 551h6v32h-6zM967 552v32h4v-32zM980 348h6v11h-6zM981 349v9h4v-9zM980 558h6v25h-6zM981 559v25h4v-25zM987 326h6v23h-6zM988 327v21h4v-21zM990 324h1v2h-1zM990 349h1v1h-1zM987 540h6v43h-6zM988 541v43h4v-43zM994 323h6v2h-6zM997 321h1v2h-1zM997 325h1v3h-1zM994 550h6v33h-6zM995 551v33h4v-33zM1001 307h6v15h-6zM1002 308v13h4v-13zM1004 301h1v6h-1zM1004 322h1v4h-1zM1001 531h6v52h-6zM1002 532v52h4v-52zM1008 309h6v1h-6zM1011 305h1v4h-1zM1011 310h1v4h-1zM1008 540h6v43h-6zM1009 541v43h4v-43zM1015 309h6v2h-6zM1018 307h1v2h-1zM1018 311h1v6h-1zM1015 551h6v32h-6zM1016 552v32h4v-32zM1029 324h6v3h-6zM1030 325v1h4v-1zM1032 319h1v5h-1zM1032 327h1v3h-1zM1029 556h6v27h-6zM1030 557v27h4v-27z" fill="#ff0000" fill-rule="evenodd"/>
<polyline points="72.7,193.0 80.0,196.5 90.0,196.0 103.5,193.3 115.0,191.3 122.0,192.3 137.0,189.7 153.6,185.0 170.4,180.0 187.0,175.5 203.8,171.3 220.5,166.5 230.5,163.2 240.6,158.9 247.0,159.5 254.0,159.2 262.0,169.5 274.0,168.3 290.8,167.3 300.8,169.9 317.5,169.5 327.5,166.5 344.0,162.2 361.0,159.5 367.7,158.9 377.7,163.2 389.4,163.9 396.0,165.5 411.0,163.9 428.0,163.2 444.6,163.9 460.0,163.2 473.4,161.5 490.0,164.9 501.8,163.9 520.0,168.3 537.0,170.5 553.6,175.5 563.7,179.0 570.4,177.3 580.4,183.3 597.0,185.5 613.8,189.5 630.6,193.3 644.0,196.5 657.3,195.5 667.4,200.0 677.4,205.5 690.8,209.1 700.8,212.5 717.5,214.1 727.5,216.8 737.6,218.1 747.6,223.5 757.7,225.8 771.0,224.8 781.0,224.1 787.8,222.5 797.8,226.5 811.0,227.5 828.0,230.1 845.7,231.5 862.4,233.5 879.0,235.8 899.0,239.8 916.0,237.5 936.0,237.5 956.0,236.5 972.8,235.1 989.5,230.8 999.5,230.1 1009.6,227.5 1026.0,225.8 1036.0,224.8 1046.0,226.8 1063.0,231.8 1080.0,235.8 1096.5,239.8 1113.0,248.5 1130.0,258.2 1146.7,263.2 1163.4,267.5 1180.0,270.9 1193.5,275.9 1210.0,280.3 1227.0,283.5 1244.0,285.0" fill="none" stroke="#ff0000" stroke-width="1"/>
<polyline points="72.7,524.5 80.0,517.1 96.8,510.1 113.5,506.8 123.5,500.1 140.3,492.7 157.0,486.7 173.7,482.0 185.4,477.0 200.5,475.0 213.8,473.5 220.5,476.0 227.2,472.5 240.6,477.5 254.0,475.0 262.3,460.3 274.0,458.5 290.8,457.5 304.0,451.5 310.8,453.5 317.5,452.9 332.6,457.5 347.6,454.2 364.3,454.5 374.4,448.5 381.0,447.5 387.8,449.2 395.5,445.9 409.5,451.5 424.5,449.9 441.3,446.5 454.6,444.9 483.4,445.9 493.4,445.2 506.8,453.5 520.2,453.5 537.0,457.5 550.3,457.5 563.7,454.9 570.4,458.3 578.7,453.5 593.8,455.9 610.5,460.3 627.2,461.5 644.0,463.3 655.7,467.0 667.4,464.3 675.7,460.9 684.0,462.5 697.5,463.3 717.5,471.0 727.6,470.0 737.6,472.5 747.6,468.3 756.0,467.5 771.0,473.5 787.8,486.0 807.8,494.5 821.2,496.7 834.6,500.1 843.0,497.7 851.3,500.5 861.3,501.7 865.8,504.5 879.2,503.7 890.9,505.1 906.0,509.5 919.3,512.8 936.0,510.1 944.4,511.1 962.8,510.1 979.5,510.1 991.0,512.1 998.0,507.8 1004.6,511.1 1018.0,508.8 1033.0,508.8 1039.7,507.1 1049.7,500.1 1059.8,494.5 1076.5,490.0 1096.6,483.7 1116.6,471.5 1133.3,456.9 1153.4,444.2 1173.5,435.9 1196.9,419.1 1220.3,404.1 1244.0,392.8" fill="none" stroke="#ff0000" stroke-width="1"/>
<polyline points="72.7,259.9 80.0,260.9 90.0,259.2 103.5,256.5 120.0,253.5 137.0,249.2 153.6,244.8 170.4,240.2 187.0,235.1 203.8,230.1 220.5,226.1 230.5,225.1 240.6,222.5 254.0,221.5 262.3,226.5 274.0,226.8 290.8,225.8 300.8,226.5 317.5,224.8 327.5,222.5 344.0,220.1 361.0,217.8 371.0,218.5 381.0,220.1 394.4,221.5 411.0,220.8 428.0,220.8 444.6,220.1 461.0,219.5 473.4,218.5 490.0,220.1 503.5,220.8 520.0,225.8 537.0,227.5 553.6,231.5 570.4,233.1 583.7,237.5 597.0,239.2 613.8,243.5 630.6,246.9 647.3,249.9 660.7,250.9 674.0,255.9 690.8,259.9 707.5,264.2 720.9,265.2 737.6,268.3 751.0,272.5 767.7,274.3 787.8,276.0 804.5,279.3 821.2,282.0 838.0,283.5 854.6,286.0 875.0,288.5 899.0,292.5 916.0,292.0 936.0,291.5 956.0,291.0 972.8,289.3 989.5,287.0 1009.6,283.5 1029.7,281.0 1046.0,281.0 1059.8,283.5 1076.5,285.3 1096.5,289.3 1113.0,293.5 1130.0,298.3 1146.7,300.3 1163.4,302.0 1180.0,304.3 1193.5,306.0 1210.0,306.0 1227.0,306.7 1244.0,305.3" fill="none" stroke="#0000ff" stroke-width="1"/>
<polyline points="72.7,434.2 80.0,429.2 96.8,424.1 113.5,420.8 123.5,415.1 140.3,409.8 157.0,403.5 173.7,399.1 185.4,394.7 203.8,390.7 217.2,389.7 227.2,389.0 240.6,391.4 254.0,389.0 262.3,380.7 274.0,379.0 290.8,378.3 300.8,374.5 310.8,375.5 317.5,374.5 331.0,378.3 344.3,374.0 364.3,373.3 374.4,369.5 387.8,370.5 394.4,370.0 407.8,373.3 424.5,370.5 441.3,368.3 454.6,368.0 490.0,368.0 506.8,374.5 523.5,377.3 540.3,379.5 560.3,379.5 570.4,381.5 580.4,380.0 597.0,383.0 613.8,385.5 630.6,388.0 650.6,391.4 664.0,391.7 674.0,390.7 694.0,394.7 717.5,400.7 731.0,400.7 741.0,402.5 754.3,401.5 771.0,405.8 787.8,414.1 807.8,420.8 828.0,424.8 842.4,425.1 855.8,428.2 869.0,430.2 889.0,431.8 912.6,436.5 927.7,436.5 936.0,434.8 942.7,435.8 962.8,434.8 979.5,434.2 991.0,434.8 997.0,431.8 1004.6,433.5 1019.6,431.5 1033.0,430.8 1046.4,426.8 1059.8,421.8 1079.8,419.1 1096.6,416.8 1116.6,410.8 1133.3,402.5 1153.4,395.0 1176.8,389.0 1196.9,380.7 1220.3,370.0 1244.0,363.3" fill="none" stroke="#0000ff" stroke-width="1"/>
<polyline points="72.7,334.5 93.4,329.5 113.5,325.5 130.0,321.1 147.0,316.1 163.7,310.5 180.4,305.5 193.8,302.7 207.0,298.7 220.5,296.0 234.0,294.3 254.0,292.7 274.0,291.0 294.0,289.3 314.0,287.7 331.0,286.0 347.6,284.3 361.0,283.3 377.7,283.5 394.4,284.3 407.8,285.3 428.0,284.3 444.6,283.5 461.0,282.5 473.4,282.5 493.4,284.3 513.5,288.5 530.0,291.0 550.0,293.5 570.4,295.3 590.4,299.3 610.5,303.3 630.6,307.0 647.3,309.5 664.0,311.0 680.7,314.5 697.5,318.5 710.8,322.1 727.5,323.8 744.3,326.8 761.0,329.5 777.7,332.1 789.4,334.5 804.0,339.2 824.0,342.5 844.0,344.8 864.0,347.5 884.0,350.5 909.0,353.0 933.0,352.5 958.0,351.8 983.0,351.2 995.5,349.2 1020.5,345.0 1045.5,343.0 1070.5,343.0 1095.5,343.0 1103.0,344.2 1133.0,343.8 1158.0,340.5 1183.0,338.0 1208.0,335.0 1244.0,330.2" fill="none" stroke="#000000" stroke-width="1"/>
<polyline points="416.5,240.5 436.5,245.8" fill="none" stroke="#0000ff" stroke-width="1"/>
<polyline points="864,392.5 884,386.5" fill="none" stroke="#0000ff" stroke-width="1"/>
<path d="M706 155h8l-4 4z" fill="#000"/>
</svg>
<span class="t ser blue" style="left:2.5px;top:133px;font-size:12px;letter-spacing:0px">日K线</span>
<span class="t " style="left:71px;top:141px;font-size:13px;letter-spacing:-.2px">极反通道</span>
<span class="t hd red" style="left:140.8px;top:143px;">Tp=2358.9529</span>
<span class="t hd blue" style="left:219.5px;top:143px;">Up=2257.5433</span>
<span class="t hd" style="left:298.5px;top:143px;">Md=2142.0722</span>
<span class="t hd blue" style="left:377.5px;top:143px;">Dn=1987.9564</span>
<span class="t hd red" style="left:456px;top:143px;">Bt=1847.8084</span>
<span class="t ser blue" style="left:1146px;top:141px;font-size:13px">1A0001&nbsp;&nbsp;上证指数</span>
<span class="t dt" style="left:70px;top:130px;">09-17</span>
<span class="t dt" style="left:130px;top:130px;">10-10</span>
<span class="t dt" style="left:200px;top:130px;">10-24</span>
<span class="t dt" style="left:270px;top:130px;">11-07</span>
<span class="t dt" style="left:340px;top:130px;">11-21</span>
<span class="t dt" style="left:410px;top:130px;">12-05</span>
<span class="t dt" style="left:480px;top:130px;">12-19</span>
<span class="t dt" style="left:550px;top:130px;">01-03</span>
<span class="t dt" style="left:620px;top:130px;">01-17</span>
<span class="t dt" style="left:690px;top:130px;">02-07</span>
<span class="t dt" style="left:760px;top:130px;">02-21</span>
<span class="t dt" style="left:830px;top:130px;">03-07</span>
<span class="t dt" style="left:900px;top:130px;">03-21</span>
<span class="t dt" style="left:970px;top:130px;">04-04</span>
<span class="t dt" style="left:1040px;top:130px;">04-21</span>
<span class="t dt" style="left:1110px;top:130px;">05-05</span>
<span class="t dt" style="left:1180px;top:130px;">05-19</span>
<span class="t blue" style="left:437px;top:245px;font-size:12px;letter-spacing:.2px">2260.8701</span>
<span class="t blue" style="left:884px;top:379px;font-size:12px;letter-spacing:.2px">1974.3800</span>
<span class="t vl" style="left:8px;top:511px;">1726<span style="padding:0 3.4px 0 1px">.</span>7250</span>
<span class="t vl" style="left:8px;top:535px;">126750535</span>
<span class="t vl" style="left:8px;top:551px;">84500357</span>
<span class="t vl" style="left:8px;top:567px;">42250178</span>
</body></html>
